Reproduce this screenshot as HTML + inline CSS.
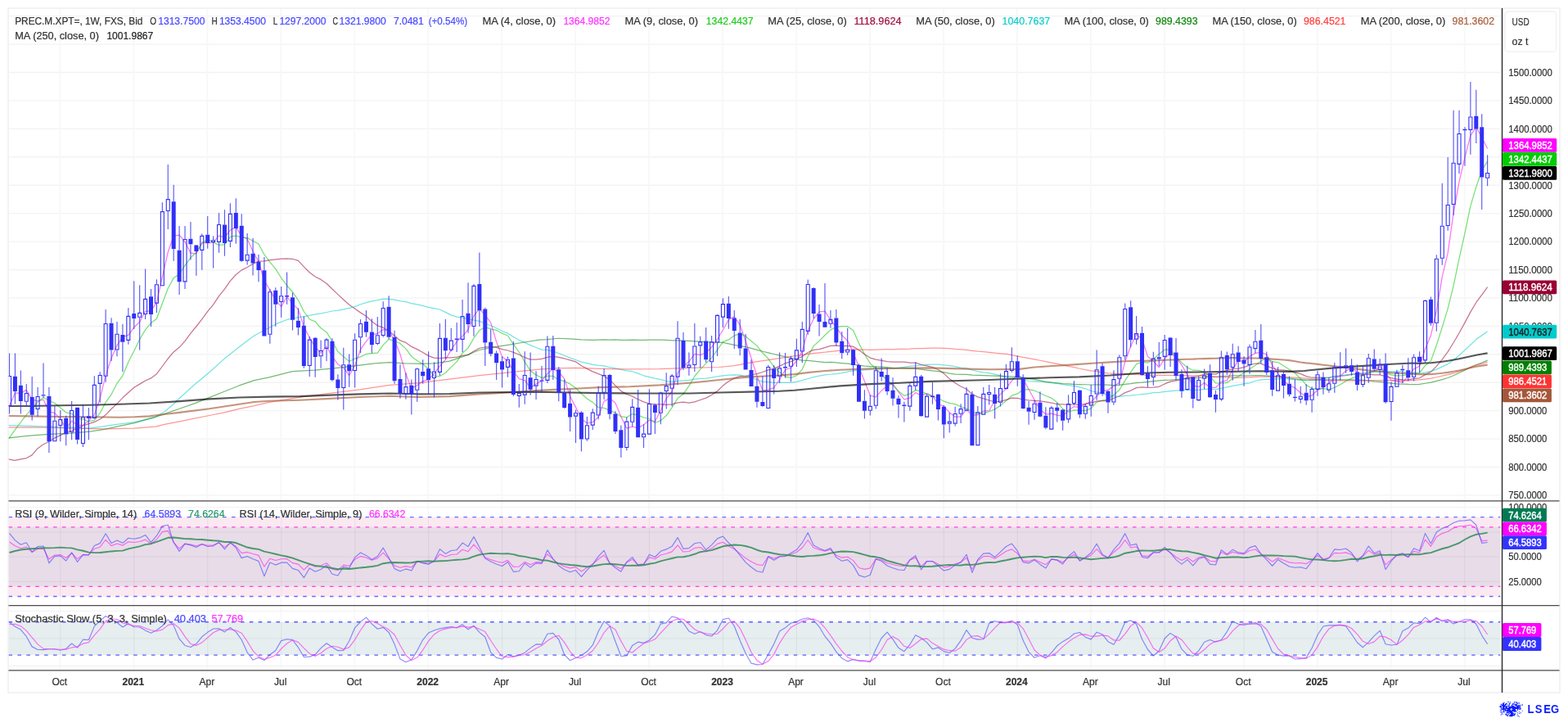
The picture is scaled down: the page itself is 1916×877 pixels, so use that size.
<!DOCTYPE html>
<html lang="en"><head><meta charset="utf-8"><title>PREC.M.XPT= 1W chart</title>
<style>html,body{margin:0;padding:0;background:#fff}body{width:1916px;height:877px;overflow:hidden}svg{display:block}text{font-family:"Liberation Sans","DejaVu Sans",sans-serif;font-size:12px;color:#333;fill:currentColor;stroke:currentColor;stroke-width:.22px}.g{stroke:#f3f3f3;stroke-width:1.35;fill:none}.w{stroke:#3030f8;stroke-width:1.15;fill:none;opacity:.8}.cf{fill:#3030f8;stroke:none}.ch{fill:none;stroke:#3030f8;stroke-width:1.1}.ln{fill:none;stroke-linejoin:round}.tag text{fill:#fff;font-size:12px}</style></head><body>
<svg width="1916" height="877" viewBox="0 0 1916 877">
<rect width="1916" height="877" fill="#fff"/>
<rect x="10" y="10" width="1896" height="836" fill="#fff" stroke="#f3f3f3" stroke-width="2"/>
<g class="g">
<path d="M11 604.93H1833"/>
<path d="M11 570.50H1833"/>
<path d="M11 536.07H1833"/>
<path d="M11 501.64H1833"/>
<path d="M11 467.21H1833"/>
<path d="M11 432.79H1833"/>
<path d="M11 398.36H1833"/>
<path d="M11 363.93H1833"/>
<path d="M11 329.50H1833"/>
<path d="M11 295.07H1833"/>
<path d="M11 260.64H1833"/>
<path d="M11 226.21H1833"/>
<path d="M11 191.79H1833"/>
<path d="M11 157.36H1833"/>
<path d="M11 122.93H1833"/>
<path d="M11 88.50H1833"/>
<path d="M11 54.07H1833"/>
<path d="M11 19.64H1833"/>
<path d="M73.48 11V818" style="stroke:#f7f7f7;stroke-width:1.7"/>
<path d="M163.44 11V818" style="stroke:#f7f7f7;stroke-width:1.7"/>
<path d="M253.40 11V818" style="stroke:#f7f7f7;stroke-width:1.7"/>
<path d="M343.36 11V818" style="stroke:#f7f7f7;stroke-width:1.7"/>
<path d="M433.32 11V818" style="stroke:#f7f7f7;stroke-width:1.7"/>
<path d="M523.28 11V818" style="stroke:#f7f7f7;stroke-width:1.7"/>
<path d="M613.24 11V818" style="stroke:#f7f7f7;stroke-width:1.7"/>
<path d="M703.20 11V818" style="stroke:#f7f7f7;stroke-width:1.7"/>
<path d="M793.16 11V818" style="stroke:#f7f7f7;stroke-width:1.7"/>
<path d="M883.12 11V818" style="stroke:#f7f7f7;stroke-width:1.7"/>
<path d="M973.08 11V818" style="stroke:#f7f7f7;stroke-width:1.7"/>
<path d="M1063.04 11V818" style="stroke:#f7f7f7;stroke-width:1.7"/>
<path d="M1153.00 11V818" style="stroke:#f7f7f7;stroke-width:1.7"/>
<path d="M1242.96 11V818" style="stroke:#f7f7f7;stroke-width:1.7"/>
<path d="M1332.92 11V818" style="stroke:#f7f7f7;stroke-width:1.7"/>
<path d="M1422.88 11V818" style="stroke:#f7f7f7;stroke-width:1.7"/>
<path d="M1519.76 11V818" style="stroke:#f7f7f7;stroke-width:1.7"/>
<path d="M1609.72 11V818" style="stroke:#f7f7f7;stroke-width:1.7"/>
<path d="M1699.68 11V818" style="stroke:#f7f7f7;stroke-width:1.7"/>
<path d="M1789.64 11V818" style="stroke:#f7f7f7;stroke-width:1.7"/>
<path d="M11 619.60H1833"/>
<path d="M11 649.85H1833"/>
<path d="M11 680.10H1833"/>
<path d="M11 710.35H1833"/>
<path d="M11 746.30H1833"/>
<path d="M11 779.90H1833"/>
<path d="M11 813.50H1833"/>
</g>
<clipPath id="cm"><rect x="10.5" y="10" width="1824.5" height="601.5"/></clipPath>
<clipPath id="cr"><rect x="10.5" y="612" width="1824.5" height="127"/></clipPath>
<clipPath id="cs"><rect x="10.5" y="740" width="1824.5" height="78.5"/></clipPath>
<g clip-path="url(#cr)">
<rect x="10.5" y="631.70" width="1822.80" height="96.80" fill="#fbe9f1"/>
<rect x="10.5" y="643.80" width="1822.80" height="72.60" fill="#e8dce8"/>
<g stroke="#000" stroke-opacity=".045" stroke-width="1.3">
<path d="M73.78 631.70V728.50"/>
<path d="M163.74 631.70V728.50"/>
<path d="M253.70 631.70V728.50"/>
<path d="M343.66 631.70V728.50"/>
<path d="M433.62 631.70V728.50"/>
<path d="M523.58 631.70V728.50"/>
<path d="M613.54 631.70V728.50"/>
<path d="M703.50 631.70V728.50"/>
<path d="M793.46 631.70V728.50"/>
<path d="M883.42 631.70V728.50"/>
<path d="M973.38 631.70V728.50"/>
<path d="M1063.34 631.70V728.50"/>
<path d="M1153.30 631.70V728.50"/>
<path d="M1243.26 631.70V728.50"/>
<path d="M1333.22 631.70V728.50"/>
<path d="M1423.18 631.70V728.50"/>
<path d="M1520.06 631.70V728.50"/>
<path d="M1610.02 631.70V728.50"/>
<path d="M1699.98 631.70V728.50"/>
<path d="M1789.94 631.70V728.50"/>
<path d="M10.5 649.85H1833.3"/>
<path d="M10.5 680.10H1833.3"/>
<path d="M10.5 710.35H1833.3"/>
</g>
<path d="M10.5 631.70H1833.3" stroke="#6a6aff" stroke-width="1.3" stroke-dasharray="4.6 6.3" fill="none"/>
<path d="M10.5 643.80H1833.3" stroke="#ff3fe0" stroke-width="1.3" stroke-dasharray="4.6 6.3" fill="none"/>
<path d="M10.5 716.40H1833.3" stroke="#ff3fe0" stroke-width="1.3" stroke-dasharray="4.6 6.3" fill="none"/>
<path d="M10.5 728.50H1833.3" stroke="#6a6aff" stroke-width="1.3" stroke-dasharray="4.6 6.3" fill="none"/>
</g>
<g clip-path="url(#cs)">
<rect x="10.5" y="759.74" width="1822.80" height="40.32" fill="#e6eeef"/>
<g stroke="#000" stroke-opacity=".045" stroke-width="1.3">
<path d="M73.78 759.74V800.06"/>
<path d="M163.74 759.74V800.06"/>
<path d="M253.70 759.74V800.06"/>
<path d="M343.66 759.74V800.06"/>
<path d="M433.62 759.74V800.06"/>
<path d="M523.58 759.74V800.06"/>
<path d="M613.54 759.74V800.06"/>
<path d="M703.50 759.74V800.06"/>
<path d="M793.46 759.74V800.06"/>
<path d="M883.42 759.74V800.06"/>
<path d="M973.38 759.74V800.06"/>
<path d="M1063.34 759.74V800.06"/>
<path d="M1153.30 759.74V800.06"/>
<path d="M1243.26 759.74V800.06"/>
<path d="M1333.22 759.74V800.06"/>
<path d="M1423.18 759.74V800.06"/>
<path d="M1520.06 759.74V800.06"/>
<path d="M1610.02 759.74V800.06"/>
<path d="M1699.98 759.74V800.06"/>
<path d="M1789.94 759.74V800.06"/>
<path d="M10.5 779.90H1833.3"/>
</g>
<path d="M10.5 759.74H1833.3" stroke="#5a5aff" stroke-width="1.3" stroke-dasharray="4.6 6.3" fill="none"/>
<path d="M10.5 800.06H1833.3" stroke="#5a5aff" stroke-width="1.3" stroke-dasharray="4.6 6.3" fill="none"/>
</g>
<g clip-path="url(#cm)">
<path class="ln" d="M11.51 495.62L18.45 480.09L25.39 480.09L32.26 476.37L39.18 488.10L46.10 489.79L53.02 488.06L59.94 502.67L66.86 504.63L73.78 511.62L80.70 523.49L87.62 514.13L94.54 519.75L101.46 519.06L108.38 514.18L115.30 506.41L122.22 486.87L129.14 458.33L136.06 437.46L142.98 421.94L149.90 411.66L156.82 409.38L163.74 399.79L170.66 393.31L177.58 380.29L184.50 379.61L191.42 369.34L198.34 338.40L205.26 307.97L212.18 287.99L219.10 287.08L226.02 295.52L232.94 309.08L239.86 309.82L246.78 295.91L253.70 296.96L260.62 295.91L267.54 287.87L274.46 289.93L281.38 281.12L288.30 277.37L295.22 288.33L302.14 291.98L309.06 306.96L315.98 319.72L322.90 342.72L329.82 354.11L336.74 366.64L343.66 374.63L350.58 362.42L357.50 370.84L364.42 377.90L371.34 399.15L378.26 412.58L385.18 423.90L392.10 431.12L399.02 423.22L405.94 435.43L412.86 444.91L419.78 449.22L426.70 458.70L433.62 446.51L440.54 426.94L447.46 416.87L454.38 408.86L461.30 407.46L468.22 402.72L475.14 404.22L482.06 415.20L488.98 432.76L495.90 456.80L502.82 474.36L509.74 470.80L516.66 465.55L523.58 463.40L530.50 456.46L537.42 447.12L544.34 439.38L551.26 427.40L558.18 417.37L565.10 410.66L572.02 402.58L578.94 385.91L585.86 377.19L592.78 385.14L599.70 394.22L606.62 417.60L613.54 435.64L620.46 440.89L627.38 453.33L634.30 462.72L641.22 464.56L648.14 473.63L655.06 469.06L661.98 465.18L668.90 456.37L675.82 450.43L682.74 454.44L689.66 462.65L696.58 484.14L703.50 497.37L710.42 511.53L717.34 517.01L724.26 515.73L731.18 509.56L738.10 490.16L745.02 486.60L751.94 492.21L758.86 508.88L765.78 523.03L772.70 521.03L779.62 522.85L786.54 518.70L793.46 513.31L800.38 514.86L807.30 501.39L814.22 486.78L821.14 478.24L828.06 455.66L834.98 447.87L841.90 441.51L848.82 432.40L855.74 433.54L862.66 431.03L869.58 423.95L876.50 414.54L883.42 402.99L890.34 390.43L897.26 386.87L904.18 396.82L911.10 416.69L918.02 437.44L924.94 459.15L931.86 476.76L938.78 476.12L945.70 473.65L952.62 463.49L959.54 451.73L966.46 449.22L973.38 440.75L980.30 428.88L987.22 403.63L994.14 389.70L1001.06 380.89L1007.98 380.18L1014.90 390.89L1021.82 399.77L1028.74 409.34L1035.66 416.28L1042.58 430.11L1049.50 448.16L1056.42 465.80L1063.34 483.07L1070.26 484.82L1077.18 477.14L1084.10 471.21L1091.02 468.74L1097.94 478.97L1104.86 487.78L1111.78 486.19L1118.70 479.66L1125.62 483.22L1132.54 480.48L1139.46 483.67L1146.38 493.49L1153.30 496.09L1160.22 503.86L1167.14 509.20L1174.06 509.20L1180.98 499.98L1187.90 507.14L1194.82 506.73L1201.74 502.17L1208.66 501.71L1215.58 488.93L1222.50 481.57L1229.42 474.63L1236.34 465.18L1243.26 457.24L1250.18 463.31L1257.10 475.50L1264.02 488.38L1270.94 500.25L1277.86 506.09L1284.78 505.09L1291.70 507.14L1298.62 508.38L1305.54 501.25L1312.46 496.55L1319.38 497.69L1326.30 493.45L1333.22 490.93L1340.14 483.99L1347.06 477.65L1353.98 476.37L1360.90 471.39L1367.82 467.65L1374.74 441.85L1381.66 422.76L1388.58 408.74L1395.50 413.99L1402.42 435.32L1409.34 441.12L1416.26 448.74L1423.18 438.15L1430.10 430.89L1437.02 436.05L1443.94 445.91L1450.86 457.74L1457.78 470.98L1464.70 472.44L1471.62 467.74L1478.54 473.26L1485.46 473.49L1492.38 466.55L1499.30 464.59L1506.22 451.57L1513.14 440.11L1520.06 441.94L1526.98 435.23L1533.90 431.35L1540.82 430.34L1547.74 432.99L1554.66 445.91L1561.58 456.28L1568.50 464.50L1575.42 471.21L1582.34 473.58L1589.26 479.98L1596.18 484.54L1603.10 483.03L1610.02 476.19L1616.94 473.31L1623.86 468.29L1630.78 461.57L1637.70 459.52L1644.62 453.03L1651.54 449.29L1658.46 454.54L1665.38 456.82L1672.30 454.53L1679.22 453.70L1686.14 447.52L1693.06 455.59L1699.98 464.27L1706.90 465.55L1713.82 467.14L1720.74 459.61L1727.66 450.71L1734.58 447.28L1741.50 426.30L1748.42 409.68L1755.34 379.56L1762.26 338.17L1769.18 308.95L1776.10 260.18L1783.02 221.98L1789.94 192.46L1796.86 165.59L1803.78 155.04L1810.70 168.19L1817.62 181.53" stroke="#ff33ee" stroke-width="1.25" opacity="0.68"/>
<path class="ln" d="M10.59 535.81L18.45 524.85L25.39 515.71L32.33 506.58L39.09 499.27L46.03 491.05L52.97 485.57L59.92 489.23L66.86 492.22L73.78 498.10L80.70 503.93L87.62 505.25L94.54 511.50L101.46 511.86L108.38 514.76L115.30 513.41L122.22 504.48L129.14 491.28L136.06 481.81L142.98 468.27L149.90 458.94L156.82 442.23L163.74 428.80L170.66 414.55L177.58 402.88L184.50 394.56L191.42 389.24L198.34 370.52L205.26 352.23L212.18 339.59L219.10 334.89L226.02 324.18L232.94 314.80L239.86 308.27L246.78 297.69L253.70 292.01L260.62 295.91L267.54 299.34L274.46 298.55L281.38 289.37L288.30 287.84L295.22 290.12L302.14 290.62L309.06 294.28L315.98 297.96L322.90 310.92L329.82 320.06L336.74 328.37L343.66 339.52L350.58 348.72L357.50 356.73L364.42 366.56L371.34 380.50L378.26 389.99L385.18 392.82L392.10 400.78L399.02 405.64L405.94 417.01L412.86 429.48L419.78 435.62L426.70 441.55L433.62 438.05L440.54 435.86L447.46 432.49L454.38 431.66L461.30 431.05L468.22 421.32L475.14 414.41L482.06 416.54L488.98 419.52L495.90 425.90L502.82 435.49L509.74 440.51L516.66 444.72L523.58 450.76L530.50 459.37L537.42 459.57L544.34 455.46L551.26 448.37L558.18 441.85L565.10 431.26L572.02 425.15L578.94 412.98L585.86 403.53L592.78 399.56L599.70 401.63L606.62 403.30L613.54 407.20L620.46 410.02L627.38 420.60L634.30 430.03L641.22 442.15L648.14 452.88L655.06 457.90L661.98 461.56L668.90 459.38L675.82 459.45L682.74 463.92L689.66 465.70L696.58 468.90L703.50 474.03L710.42 480.77L717.34 487.01L724.26 491.37L731.18 497.68L738.10 498.42L745.02 501.30L751.94 504.51L758.86 508.67L765.78 509.83L772.70 505.53L779.62 507.11L786.54 509.99L793.46 511.49L800.38 516.51L807.30 513.68L814.22 507.58L821.14 497.87L828.06 486.56L834.98 481.17L841.90 471.42L848.82 459.52L855.74 451.11L862.66 443.91L869.58 437.00L876.50 427.41L883.42 417.66L890.34 414.92L897.26 409.89L904.18 407.56L911.10 410.68L918.02 416.66L924.94 422.39L931.86 431.03L938.78 438.05L945.70 448.06L952.62 454.86L959.54 459.85L966.46 461.34L973.38 458.76L980.30 451.06L987.22 435.18L994.14 422.64L1001.06 416.43L1007.98 409.51L1014.90 402.91L1021.82 399.55L1028.74 398.71L1035.66 398.64L1042.58 403.46L1049.50 419.34L1056.42 432.53L1063.34 444.05L1070.26 449.96L1077.18 457.68L1084.10 464.28L1091.02 470.45L1097.94 477.82L1104.86 483.31L1111.78 481.18L1118.70 476.61L1125.62 477.89L1132.54 481.38L1139.46 484.08L1146.38 486.52L1153.30 490.05L1160.22 492.44L1167.14 493.60L1174.06 496.74L1180.98 499.08L1187.90 503.08L1194.82 505.27L1201.74 504.96L1208.66 502.73L1215.58 499.89L1222.50 495.36L1229.42 489.60L1236.34 483.17L1243.26 480.89L1250.18 475.88L1257.10 475.72L1264.02 477.04L1270.94 480.24L1277.86 483.51L1284.78 486.17L1291.70 491.49L1298.62 499.44L1305.54 503.08L1312.46 500.94L1319.38 501.35L1326.30 501.70L1333.22 498.94L1340.14 491.12L1347.06 489.15L1353.98 488.02L1360.90 482.50L1367.82 476.19L1374.74 464.84L1381.66 454.71L1388.58 444.85L1395.50 441.99L1402.42 443.21L1409.34 438.48L1416.26 432.57L1423.18 427.22L1430.10 426.87L1437.02 435.90L1443.94 442.86L1450.86 448.99L1457.78 452.20L1464.70 452.40L1471.62 454.69L1478.54 459.89L1485.46 467.91L1492.38 468.25L1499.30 467.38L1506.22 462.41L1513.14 460.07L1520.06 455.34L1526.98 450.84L1533.90 446.23L1540.82 441.00L1547.74 437.34L1554.66 441.66L1561.58 442.54L1568.50 446.74L1575.42 451.16L1582.34 455.73L1589.26 462.43L1596.18 470.38L1603.10 474.58L1610.02 474.93L1616.94 474.60L1623.86 475.72L1630.78 473.28L1637.70 469.73L1644.62 465.47L1651.54 462.08L1658.46 459.95L1665.38 458.08L1672.30 455.85L1679.22 453.36L1686.14 450.72L1693.06 455.42L1699.98 457.96L1706.90 458.93L1713.82 458.66L1720.74 457.68L1727.66 455.24L1734.58 455.70L1741.50 446.48L1748.42 440.86L1755.34 421.45L1762.26 399.66L1769.18 376.88L1776.10 348.87L1783.02 315.84L1789.94 284.89L1796.86 251.69L1803.78 228.32L1810.70 208.51L1817.62 196.87" stroke="#22cc22" stroke-width="1.25" opacity="0.62"/>
<path class="ln" d="M10.59 560.83L17.72 562.30L25.39 560.83L32.33 559.56L39.09 555.90L46.03 547.68L52.97 542.75L59.92 539.46L66.86 534.90L73.80 531.61L80.74 528.50L87.68 526.13L94.62 523.02L101.57 519.92L108.51 517.54L115.45 515.35L122.39 512.06L129.33 506.58L136.27 499.27L143.21 492.88L150.16 485.57L157.10 479.18L163.86 473.34L170.80 469.13L177.58 464.97L184.50 461.94L191.42 456.74L198.34 447.50L205.26 438.03L212.18 429.92L219.10 424.30L226.02 416.69L232.94 407.05L239.86 398.75L246.78 389.79L253.70 380.45L260.62 372.14L267.54 361.65L274.46 353.13L281.38 343.16L288.30 335.49L295.22 329.88L302.14 326.51L309.06 322.28L315.98 319.14L322.90 318.85L329.82 317.67L336.74 316.97L343.66 316.15L350.58 315.99L357.50 316.27L364.42 318.34L371.34 325.87L378.26 332.73L385.18 338.01L392.10 341.39L399.02 346.30L405.94 352.95L412.86 359.63L419.78 365.92L426.70 372.18L433.62 377.04L440.54 381.88L447.46 386.23L454.38 392.62L461.30 397.85L468.22 400.18L475.14 404.19L482.06 409.94L488.98 415.94L495.90 418.43L502.82 423.43L509.74 426.60L516.66 430.49L523.58 434.59L530.50 437.13L537.42 437.68L544.34 436.92L551.26 436.96L558.18 436.08L565.10 434.40L572.02 433.62L578.94 429.04L585.86 425.25L592.78 424.15L599.70 423.31L606.62 424.41L613.54 426.64L620.46 427.99L627.38 430.42L634.30 433.25L641.22 436.54L648.14 439.10L655.06 439.04L661.98 438.44L668.90 436.47L675.82 435.27L682.74 436.42L689.66 437.98L696.58 439.79L703.50 441.81L710.42 446.73L717.34 450.40L724.26 453.92L731.18 456.57L738.10 459.45L745.02 463.84L751.94 470.93L758.86 477.64L765.78 481.51L772.70 484.13L779.62 487.77L786.54 490.93L793.46 493.10L800.38 493.97L807.30 493.96L814.22 494.48L821.14 493.83L828.06 491.83L834.98 491.19L841.90 492.10L848.82 490.95L855.74 488.48L862.66 486.13L869.58 482.47L876.50 477.70L883.42 471.12L890.34 465.87L897.26 461.85L904.18 459.66L911.10 459.36L918.02 458.01L924.94 456.56L931.86 454.52L938.78 451.85L945.70 450.43L952.62 447.07L959.54 443.80L966.46 441.60L973.38 438.57L980.30 435.46L987.22 430.50L994.14 427.43L1001.06 426.61L1007.98 424.63L1014.90 422.40L1021.82 422.21L1028.74 422.74L1035.66 422.27L1042.58 423.39L1049.50 427.59L1056.42 432.79L1063.34 437.09L1070.26 439.06L1077.18 440.44L1084.10 441.51L1091.02 442.10L1097.94 442.23L1104.86 442.21L1111.78 443.12L1118.70 443.06L1125.62 445.39L1132.54 446.81L1139.46 448.63L1146.38 451.50L1153.30 456.14L1160.22 462.84L1167.14 467.75L1174.06 472.03L1180.98 475.31L1187.90 481.45L1194.82 484.87L1201.74 486.88L1208.66 488.98L1215.58 490.86L1222.50 490.21L1229.42 488.30L1236.34 486.11L1243.26 486.44L1250.18 488.00L1257.10 488.99L1264.02 489.26L1270.94 489.85L1277.86 490.93L1284.78 492.01L1291.70 493.65L1298.62 493.87L1305.54 494.25L1312.46 494.07L1319.38 494.33L1326.30 493.45L1333.22 492.19L1340.14 490.04L1347.06 489.28L1353.98 489.67L1360.90 486.46L1367.82 483.78L1374.74 479.63L1381.66 477.04L1388.58 473.64L1395.50 472.97L1402.42 473.34L1409.34 473.19L1416.26 472.28L1423.18 468.95L1430.10 466.20L1437.02 464.82L1443.94 463.58L1450.86 461.21L1457.78 460.74L1464.70 459.26L1471.62 457.08L1478.54 456.73L1485.46 457.05L1492.38 454.28L1499.30 452.46L1506.22 450.43L1513.14 450.03L1520.06 448.57L1526.98 445.88L1533.90 444.02L1540.82 444.06L1547.74 447.15L1554.66 449.58L1561.58 451.63L1568.50 452.14L1575.42 452.89L1582.34 454.78L1589.26 456.63L1596.18 459.56L1603.10 461.24L1610.02 461.20L1616.94 461.01L1623.86 461.25L1630.78 459.73L1637.70 459.13L1644.62 458.66L1651.54 457.42L1658.46 456.70L1665.38 457.58L1672.30 457.05L1679.22 457.76L1686.14 457.89L1693.06 459.76L1699.98 461.70L1706.90 463.23L1713.82 463.77L1720.74 464.02L1727.66 462.46L1734.58 461.79L1741.50 457.66L1748.42 454.18L1755.34 447.42L1762.26 439.10L1769.18 429.57L1776.10 418.52L1783.02 406.75L1789.94 394.17L1796.86 381.14L1803.78 369.47L1810.70 360.14L1817.62 350.72" stroke="#990033" stroke-width="1.25" opacity="0.55"/>
<path class="ln" d="M10.59 519.73L36.53 520.28L59.92 521.20L87.68 522.11L109.60 523.02L124.22 521.20L138.83 518.82L164.40 515.71L189.98 509.32L200.94 502.93L211.90 493.79L219.21 486.49L237.47 470.05L255.74 454.80L274.01 438.36L292.27 423.75L310.54 410.05L321.50 404.22L337.94 395.45L350.58 390.48L357.50 389.10L364.42 387.54L371.34 386.68L378.26 385.38L385.18 383.97L392.10 382.85L399.02 381.50L405.94 380.00L412.86 379.19L419.78 377.85L426.70 376.31L433.62 374.59L440.54 371.76L447.46 369.68L454.38 367.89L461.30 366.67L468.22 365.03L475.14 365.35L482.06 366.11L488.98 367.54L495.90 368.64L502.82 370.55L509.74 371.79L516.66 373.32L523.58 375.29L530.50 376.70L537.42 378.01L544.34 381.40L551.26 384.84L558.18 387.05L565.10 387.90L572.02 389.96L578.94 390.99L585.86 392.44L592.78 395.03L599.70 397.74L606.62 400.73L613.54 404.26L620.46 407.11L627.38 411.52L634.30 415.55L641.22 418.36L648.14 421.64L655.06 424.49L661.98 427.19L668.90 427.45L675.82 429.35L682.74 431.51L689.66 434.23L696.58 437.19L703.50 439.47L710.42 442.20L717.34 443.66L724.26 445.44L731.18 446.32L738.10 446.92L745.02 448.73L751.94 449.98L758.86 451.44L765.78 452.83L772.70 453.72L779.62 456.09L786.54 458.78L793.46 460.54L800.38 462.20L807.30 463.60L814.22 465.51L821.14 466.47L828.06 465.43L834.98 464.81L841.90 464.28L848.82 463.11L855.74 462.45L862.66 462.05L869.58 461.13L876.50 459.76L883.42 458.92L890.34 458.14L897.26 457.89L904.18 458.11L911.10 459.40L918.02 460.92L924.94 463.75L931.86 466.08L938.78 466.68L945.70 467.28L952.62 467.42L959.54 467.36L966.46 467.35L973.38 466.27L980.30 464.71L987.22 462.49L994.14 460.63L1001.06 459.22L1007.98 457.91L1014.90 457.25L1021.82 456.58L1028.74 455.61L1035.66 454.20L1042.58 452.93L1049.50 452.64L1056.42 451.95L1063.34 451.48L1070.26 450.46L1077.18 450.05L1084.10 450.44L1091.02 450.06L1097.94 449.40L1104.86 448.36L1111.78 447.49L1118.70 446.75L1125.62 446.23L1132.54 445.31L1139.46 445.12L1146.38 445.04L1153.30 445.80L1160.22 446.67L1167.14 447.59L1174.06 449.32L1180.98 449.97L1187.90 451.92L1194.82 453.54L1201.74 454.81L1208.66 455.62L1215.58 457.12L1222.50 458.90L1229.42 460.54L1236.34 461.60L1243.26 462.75L1250.18 464.22L1257.10 465.25L1264.02 465.68L1270.94 466.04L1277.86 466.57L1284.78 467.57L1291.70 468.36L1298.62 469.63L1305.54 470.53L1312.46 471.35L1319.38 472.91L1326.30 474.79L1333.22 477.52L1340.14 478.89L1347.06 480.65L1353.98 482.49L1360.90 483.96L1367.82 484.33L1374.74 483.26L1381.66 483.01L1388.58 482.25L1395.50 481.59L1402.42 480.82L1409.34 479.65L1416.26 479.36L1423.18 478.47L1430.10 477.59L1437.02 477.04L1443.94 476.72L1450.86 476.07L1457.78 476.38L1464.70 476.46L1471.62 475.48L1478.54 475.49L1485.46 475.56L1492.38 474.30L1499.30 472.96L1506.22 471.31L1513.14 470.03L1520.06 468.92L1526.98 467.78L1533.90 465.24L1540.82 463.92L1547.74 463.39L1554.66 463.31L1561.58 462.63L1568.50 462.56L1575.42 463.12L1582.34 463.98L1589.26 464.45L1596.18 464.25L1603.10 463.72L1610.02 463.01L1616.94 462.30L1623.86 461.23L1630.78 460.24L1637.70 459.20L1644.62 457.87L1651.54 457.07L1658.46 456.88L1665.38 455.93L1672.30 454.76L1679.22 454.09L1686.14 453.96L1693.06 454.17L1699.98 453.79L1706.90 453.63L1713.82 453.92L1720.74 455.59L1727.66 456.02L1734.58 456.71L1741.50 454.90L1748.42 453.54L1755.34 451.10L1762.26 447.86L1769.18 444.57L1776.10 439.88L1783.02 433.97L1789.94 427.59L1796.86 421.19L1803.78 414.60L1810.70 409.63L1817.62 404.69" stroke="#00cccc" stroke-width="1.25" opacity="0.55"/>
<path class="ln" d="M10.59 534.90L36.53 532.16L59.92 530.33L87.68 529.05L109.60 527.22L127.87 524.30L146.14 520.28L164.40 516.63L189.98 509.32L200.94 505.67L219.21 499.27L237.47 492.88L255.74 485.57L274.01 478.27L292.27 470.96L310.54 464.57L328.81 460.91L357.40 453.62L384.80 452.16L412.20 449.42L439.60 446.13L457.87 443.94L476.14 442.66L494.40 443.94L512.67 444.30L530.94 443.94L549.21 441.20L567.47 434.80L585.74 427.49L604.01 423.84L622.27 421.10L640.54 418.00L658.81 415.07L669.13 414.71L681.92 413.25L696.58 413.83L703.50 414.29L710.42 414.87L717.34 415.17L724.26 415.41L731.18 415.15L738.10 414.89L745.02 415.11L751.94 414.99L758.86 415.32L765.78 415.34L772.70 415.01L779.62 415.34L786.54 415.27L793.46 415.11L800.38 415.04L807.30 415.14L814.22 415.27L821.14 415.91L828.06 415.77L834.98 416.18L841.90 416.46L848.82 416.83L855.74 417.12L862.66 417.68L869.58 418.21L876.50 418.23L883.42 418.47L890.34 419.77L897.26 421.37L904.18 422.58L911.10 423.65L918.02 425.44L924.94 427.37L931.86 429.26L938.78 430.86L945.70 432.51L952.62 434.07L959.54 435.81L966.46 437.23L973.38 438.90L980.30 440.13L987.22 440.42L994.14 441.14L1001.06 441.85L1007.98 442.55L1014.90 442.35L1021.82 442.97L1028.74 443.56L1035.66 444.22L1042.58 445.06L1049.50 446.06L1056.42 447.08L1063.34 447.57L1070.26 447.95L1077.18 448.19L1084.10 448.68L1091.02 449.39L1097.94 449.69L1104.86 449.90L1111.78 450.16L1118.70 450.23L1125.62 451.16L1132.54 452.04L1139.46 452.83L1146.38 453.62L1153.30 454.70L1160.22 456.09L1167.14 457.03L1174.06 457.38L1180.98 457.39L1187.90 458.10L1194.82 458.32L1201.74 458.63L1208.66 458.84L1215.58 459.12L1222.50 459.33L1229.42 459.73L1236.34 459.87L1243.26 460.32L1250.18 461.17L1257.10 462.33L1264.02 463.30L1270.94 464.89L1277.86 466.32L1284.78 467.12L1291.70 467.82L1298.62 468.52L1305.54 468.95L1312.46 469.35L1319.38 469.59L1326.30 469.75L1333.22 470.00L1340.14 469.76L1347.06 469.94L1353.98 470.20L1360.90 470.60L1367.82 470.45L1374.74 469.43L1381.66 468.60L1388.58 467.59L1395.50 467.12L1402.42 466.38L1409.34 465.57L1416.26 464.91L1423.18 464.26L1430.10 464.01L1437.02 463.55L1443.94 463.06L1450.86 462.22L1457.78 461.93L1464.70 461.60L1471.62 460.85L1478.54 460.40L1485.46 460.34L1492.38 459.67L1499.30 459.38L1506.22 458.99L1513.14 458.81L1520.06 459.12L1526.98 458.87L1533.90 458.58L1540.82 458.73L1547.74 459.10L1554.66 459.47L1561.58 459.88L1568.50 460.73L1575.42 461.83L1582.34 462.79L1589.26 463.60L1596.18 464.24L1603.10 464.48L1610.02 464.34L1616.94 464.17L1623.86 463.90L1630.78 463.90L1637.70 463.78L1644.62 463.75L1651.54 463.80L1658.46 464.11L1665.38 464.42L1672.30 464.78L1679.22 465.80L1686.14 466.43L1693.06 467.41L1699.98 468.14L1706.90 468.79L1713.82 469.12L1720.74 469.42L1727.66 469.52L1734.58 469.48L1741.50 468.25L1748.42 467.18L1755.34 465.38L1762.26 463.61L1769.18 461.52L1776.10 458.74L1783.02 455.51L1789.94 452.15L1796.86 448.63L1803.78 445.49L1810.70 443.05L1817.62 440.08" stroke="#008000" stroke-width="1.25" opacity="0.55"/>
<path class="ln" d="M10.59 522.11L54.80 522.11L91.34 523.02L127.87 523.94L164.40 523.02L189.98 521.20L200.94 518.45L219.21 514.80L255.74 507.49L274.01 503.84L292.27 499.27L310.54 495.62L328.81 491.42L366.53 485.04L403.07 480.47L439.60 475.90L476.14 470.42L512.67 467.68L549.21 463.12L585.74 458.55L622.27 454.90L658.81 451.24L678.27 449.96L703.84 449.42L733.07 450.33L769.60 450.88L806.14 450.69L842.67 449.42L879.21 448.50L897.47 446.68L915.74 443.02L934.01 440.28L952.27 437.54L970.54 434.80L988.81 432.06L1008.27 430.23L1026.53 428.04L1042.58 426.87L1049.50 427.07L1056.42 427.23L1063.34 427.28L1070.26 427.09L1077.18 426.78L1084.10 426.74L1091.02 426.76L1097.94 426.46L1104.86 426.33L1111.78 426.06L1118.70 425.59L1125.62 425.63L1132.54 425.28L1139.46 425.11L1146.38 425.04L1153.30 425.36L1160.22 425.74L1167.14 426.47L1174.06 426.95L1180.98 427.44L1187.90 428.28L1194.82 429.07L1201.74 429.68L1208.66 430.33L1215.58 431.18L1222.50 431.79L1229.42 432.49L1236.34 433.71L1243.26 435.16L1250.18 436.46L1257.10 437.52L1264.02 438.85L1270.94 440.26L1277.86 441.69L1284.78 443.09L1291.70 444.46L1298.62 445.92L1305.54 447.38L1312.46 448.60L1319.38 450.24L1326.30 451.69L1333.22 452.79L1340.14 453.72L1347.06 454.79L1353.98 455.86L1360.90 456.22L1367.82 456.75L1374.74 456.79L1381.66 457.15L1388.58 457.45L1395.50 457.90L1402.42 458.32L1409.34 458.27L1416.26 458.42L1423.18 458.28L1430.10 458.32L1437.02 458.61L1443.94 458.70L1450.86 458.62L1457.78 458.90L1464.70 458.97L1471.62 459.26L1478.54 459.86L1485.46 460.41L1492.38 460.51L1499.30 460.79L1506.22 461.16L1513.14 461.36L1520.06 461.23L1526.98 460.85L1533.90 460.48L1540.82 460.19L1547.74 460.22L1554.66 460.33L1561.58 460.29L1568.50 460.40L1575.42 460.86L1582.34 461.24L1589.26 461.70L1596.18 462.20L1603.10 462.79L1610.02 463.20L1616.94 464.03L1623.86 464.63L1630.78 464.83L1637.70 464.95L1644.62 464.97L1651.54 464.99L1658.46 465.19L1665.38 465.04L1672.30 464.75L1679.22 464.70L1686.14 464.50L1693.06 464.68L1699.98 464.73L1706.90 464.94L1713.82 464.94L1720.74 464.82L1727.66 464.41L1734.58 463.96L1741.50 463.05L1748.42 462.10L1755.34 460.75L1762.26 459.23L1769.18 457.70L1776.10 455.97L1783.02 453.69L1789.94 451.23L1796.86 448.54L1803.78 446.16L1810.70 444.28L1817.62 442.13" stroke="#ff3333" stroke-width="1.25" opacity="0.52"/>
<path class="ln" d="M10.59 508.04L36.53 508.41L73.07 508.96L109.60 509.32L146.14 509.69L164.40 509.32L182.67 508.41L200.94 506.03L219.21 503.84L255.74 499.27L274.01 496.53L292.27 493.79L310.54 491.05L328.81 489.78L366.53 488.69L403.07 486.86L439.60 485.04L476.14 483.76L512.67 485.04L549.21 484.12L585.74 481.38L622.27 479.56L658.81 476.82L678.27 475.90L696.53 474.99L733.07 473.16L769.60 472.25L806.14 470.42L824.40 468.96L842.67 467.68L879.21 464.03L915.74 460.38L934.01 459.46L952.27 458.55L970.54 457.09L988.81 454.90L1008.27 453.07L1026.53 451.79L1063.07 450.33L1099.60 449.78L1136.14 449.42L1172.67 450.33L1209.21 451.24L1245.74 450.88L1264.01 448.50L1282.27 447.22L1300.54 446.13L1318.81 444.85L1338.27 443.48L1356.53 442.38L1374.80 441.28L1388.58 440.71L1395.50 440.70L1402.42 440.63L1409.34 440.37L1416.26 440.16L1423.18 439.70L1430.10 439.45L1437.02 439.33L1443.94 439.02L1450.86 438.77L1457.78 438.64L1464.70 438.31L1471.62 438.10L1478.54 437.84L1485.46 437.73L1492.38 437.36L1499.30 437.26L1506.22 437.13L1513.14 437.36L1520.06 437.45L1526.98 437.52L1533.90 437.52L1540.82 437.78L1547.74 438.11L1554.66 438.58L1561.58 439.04L1568.50 439.48L1575.42 440.15L1582.34 441.28L1589.26 442.48L1596.18 443.41L1603.10 444.07L1610.02 444.89L1616.94 445.77L1623.86 446.58L1630.78 447.38L1637.70 448.14L1644.62 448.91L1651.54 449.81L1658.46 450.67L1665.38 451.66L1672.30 452.45L1679.22 453.11L1686.14 453.78L1693.06 454.63L1699.98 455.34L1706.90 455.57L1713.82 456.04L1720.74 456.49L1727.66 456.87L1734.58 457.27L1741.50 457.15L1748.42 457.13L1755.34 456.47L1762.26 455.78L1769.18 454.85L1776.10 453.71L1783.02 452.45L1789.94 450.92L1796.86 449.27L1803.78 447.82L1810.70 446.64L1817.62 445.62" stroke="#a0522d" stroke-width="2.1" opacity="0.62"/>
<path class="ln" d="M10.59 495.99L36.53 495.99L73.07 495.26L109.60 494.71L146.14 493.79L182.67 492.52L219.21 490.14L255.74 487.40L292.27 485.57L328.81 484.66L366.53 484.12L403.07 482.66L439.60 481.38L476.14 480.47L512.67 481.38L549.21 481.02L585.74 479.56L622.27 479.01L658.81 478.64L696.53 479.56L733.07 480.10L769.60 480.47L806.14 480.47L842.67 480.47L879.21 479.56L915.74 478.64L952.27 477.73L970.54 476.82L988.81 474.99L1026.53 471.34L1063.07 469.14L1099.60 467.68L1136.14 465.86L1172.67 464.94L1209.21 464.03L1245.74 462.57L1282.27 461.29L1318.81 460.38L1356.53 458.45L1393.07 455.71L1429.60 454.80L1466.14 454.44L1502.67 453.89L1539.21 453.34L1557.47 453.52L1575.74 453.89L1594.01 452.97L1600.00 452.24L1625.05 449.86L1650.11 447.85L1675.16 446.35L1700.21 444.72L1725.27 443.47L1734.58 443.91L1741.50 443.54L1748.42 443.21L1755.34 442.52L1762.26 441.70L1769.18 440.68L1776.10 439.54L1783.02 438.26L1789.94 436.74L1796.86 435.25L1803.78 433.83L1810.70 432.57L1817.62 431.41" stroke="#000000" stroke-width="2.1" opacity="0.66"/>
<path class="w" d="M11.50 431.42V458.96M11.50 496.29V505.57M18.42 431.42V459.87M18.42 478.03V493.52M25.34 452.42V470.83M25.34 489.90V505.57M32.26 469.04V479.97M32.26 490.81V495.89M39.18 459.91V484.90M39.18 506.70V513.61M46.10 473.06V483.98M46.10 499.94V508.68M53.02 443.47V482.13M53.02 483.53V485.84M59.94 473.06V483.98M59.94 539.21V553.06M66.86 495.89V513.76M73.78 501.00V511.93M73.78 520.03V539.18M80.70 507.76V510.65M80.70 530.45V544.29M87.62 490.05V500.97M87.62 528.25V537.35M94.54 537.02V542.47M101.46 494.06V509.19M101.46 541.95V546.12M108.38 498.08V508.28M108.38 510.90V537.35M115.30 459.36V469.92M115.30 510.90V511.42M122.22 454.25V458.05M122.22 468.89V491.87M129.14 378.08V395.03M129.14 459.76V466.67M136.06 388.13V394.67M136.06 427.43V441.10M142.98 392.88V407.82M142.98 427.43V435.25M149.90 395.98V408.92M149.90 417.75V453.88M156.82 375.89V385.90M156.82 415.93V420.64M163.74 343.20V382.98M163.74 389.08V402.01M170.66 348.13V381.88M170.66 387.80V427.58M177.58 328.40V364.90M177.58 383.96V389.95M184.50 353.06V362.16M184.50 383.96V399.09M191.42 341.19V347.18M191.42 370.63V381.92M198.34 247.21V258.14M205.26 201.00V243.16M205.26 258.03V279.91M212.18 225.66V246.27M212.18 304.05V318.81M219.10 275.89V305.63M219.10 344.33V360.00M226.02 275.89V291.93M226.02 344.33V353.06M232.94 270.96V291.75M232.94 298.21V317.53M239.86 299.09V299.60M239.86 306.98V336.71M246.78 285.57V287.91M246.78 305.88V329.77M253.70 264.02V286.81M253.70 296.93V303.84M260.62 288.13V293.21M260.62 296.02V327.58M267.54 260.00V274.03M267.54 295.83V308.77M274.46 256.16V274.58M274.46 296.93V312.79M281.38 248.13V260.88M281.38 294.92V302.01M288.30 242.28V259.97M288.30 279.03V297.81M295.22 261.28V275.86M295.22 318.66V319.73M302.14 285.02V310.74M302.14 318.66V323.38M309.06 290.87V309.83M309.06 321.59V336.53M315.98 310.96V319.87M315.98 330.08V344.29M322.90 313.88V330.28M329.82 353.06V356.31M329.82 408.80V419.73M336.74 351.23V354.85M336.74 371.72V398.72M343.66 349.95V361.24M343.66 368.98V387.76M350.58 332.51V360.97M350.58 362.50V371.78M357.50 357.53V363.16M357.50 390.81V403.56M364.42 376.35V391.84M364.42 399.94V409.59M371.34 386.21V397.86M371.34 447.07V449.77M378.26 411.05V414.67M378.26 447.07V459.91M385.18 411.96V412.84M385.18 436.11V460.82M392.10 415.62V428.00M392.10 435.19V449.77M399.02 412.88V414.67M399.02 426.06V441.00M405.94 413.24V416.86M405.94 464.33V465.75M412.86 457.17V463.53M412.86 474.01V488.58M419.78 424.66V445.26M419.78 474.01V500.46M426.70 432.51V445.26M426.70 453.37V472.69M433.62 407.31V414.76M433.62 453.00V473.61M440.54 390.05V394.94M440.54 412.18V431.14M447.46 379.09V392.75M447.46 405.79V411.78M454.38 389.13V405.54M454.38 421.31V431.14M461.30 387.12V409.19M461.30 420.03V421.46M468.22 368.13V375.95M468.22 409.99V411.78M475.14 361.19V374.85M475.14 411.82V414.16M482.06 403.74V411.93M482.06 465.24V468.86M488.98 445.30V462.98M488.98 480.22V486.76M495.90 455.34V472.11M495.90 482.04V487.67M502.82 463.38V470.83M502.82 482.04V506.48M509.74 449.32V450.19M509.74 476.75V490.78M516.66 439.27V454.03M516.66 459.21V468.86M523.58 429.22V450.19M523.58 464.33V481.64M530.50 442.37V453.48M530.50 461.95V485.48M537.42 394.98V412.84M537.42 454.83V458.81M544.34 390.05V412.84M544.34 428.25V438.81M551.26 400.82V415.58M551.26 427.71V429.32M558.18 394.06V413.39M558.18 414.92V430.05M565.10 366.12V385.99M565.10 414.92V430.05M572.02 345.30V382.71M572.02 395.93V406.85M578.94 347.12V348.92M578.94 399.03V410.87M585.86 308.58V347.09M585.86 379.30V398.63M592.78 375.80V377.59M592.78 418.57V447.03M599.70 401.92V417.77M599.70 432.27V435.16M606.62 428.40V431.47M606.62 443.23V463.93M613.54 435.16V441.15M613.54 451.45V473.61M620.46 435.53V438.78M620.46 448.89V460.82M627.38 416.89V437.50M627.38 482.04V484.02M634.30 469.04V479.97M634.30 483.87V497.72M641.22 429.22V458.05M641.22 482.59V493.70M648.14 430.50V461.15M648.14 475.83V482.74M655.06 453.33V462.98M655.06 471.63V488.04M661.98 446.94V464.41M661.98 465.81V479.82M668.90 410.59V422.80M668.90 464.87V467.95M675.82 410.05V422.80M675.82 452.09V463.93M682.74 448.36V451.24M682.74 479.81V490.37M689.66 463.52V479.55M689.66 498.07V498.95M696.58 475.75V492.71M696.58 509.58V526.89M703.50 500.41V504.21M703.50 508.66V540.96M710.42 502.24V503.66M710.42 536.43V551.55M717.34 509.00V519.19M717.34 536.43V538.77M724.26 499.13V503.66M724.26 519.62V525.07M731.18 471.55V479.55M731.18 507.57V512.28M738.10 450.18V458.00M738.10 479.81V487.99M745.02 457.12V458.00M745.02 505.74V512.28M751.94 502.24V505.49M751.94 526.93V530.00M758.86 519.59V525.22M758.86 547.02V558.86M765.78 509.54V514.62M765.78 547.02V550.27M772.70 487.26V496.91M772.70 515.79V521.05M779.62 476.12V497.64M786.54 518.13V529.60M786.54 534.24V546.99M793.46 475.21V493.07M793.46 530.58V530.91M800.38 493.11V494.53M800.38 503.92V530.00M807.30 478.49V479.55M807.30 504.83V518.31M814.22 455.30V471.15M814.22 477.98V499.50M821.14 457.12V458.92M821.14 474.69V496.21M828.06 392.19V412.80M828.06 460.63V470.27M834.98 405.89V416.08M834.98 449.21V451.92M841.90 430.55V445.67M841.90 449.21V458.86M848.82 394.93V422.48M848.82 445.93V453.93M855.74 410.82V417.36M855.74 422.36V449.18M862.66 400.05V416.45M862.66 439.17V442.79M869.58 409.91V417.36M869.58 442.27V453.93M876.50 383.97V384.85M876.50 418.53V435.11M883.42 364.25V371.15M883.42 387.66V400.05M890.34 362.05V370.79M890.34 388.94V401.69M897.26 379.04V388.50M897.26 403.92V426.35M904.18 390.00V406.40M904.18 425.47V434.20M911.10 408.08V425.58M918.02 439.32V452.07M924.94 461.14V471.70M924.94 490.77V497.67M931.86 459.32V490.88M931.86 495.88V496.76M938.78 445.71V448.05M945.70 446.07V450.60M945.70 462.09V481.60M952.62 430.55V449.33M952.62 459.72V467.90M959.54 431.10V448.02M959.54 449.42V461.69M966.46 434.75V438.00M966.46 447.75V466.16M973.38 413.74V427.41M973.38 439.17V447.90M980.30 393.11V401.84M980.30 429.49V443.33M987.22 341.42V347.04M987.22 404.83V408.63M994.14 351.10V351.97M994.14 383.09V388.90M1001.06 372.10V383.57M1001.06 392.96V410.46M1007.98 346.07V392.98M1014.90 378.95V389.87M1014.90 395.79V400.87M1021.82 378.04V388.60M1021.82 418.62V422.24M1028.74 404.89V416.72M1028.74 431.22V438.13M1035.66 400.87V426.77M1035.66 430.49V434.11M1042.58 426.44V427.32M1042.58 446.02V458.77M1049.50 444.52V445.95M1056.42 476.16V489.65M1056.42 501.77V511.42M1063.34 482.19V495.86M1063.34 501.77V507.40M1070.26 447.85V452.20M1070.26 495.74V499.54M1077.18 437.44V454.03M1077.18 460.13V465.75M1084.10 449.32V458.05M1084.10 478.03V482.56M1091.02 461.19V476.86M1091.02 486.79V495.53M1097.94 483.11V486.72M1097.94 493.92V510.50M1104.86 490.78V494.55M1104.86 495.95V515.43M1111.78 468.13V470.83M1111.78 496.66V501.74M1118.70 442.37V459.87M1118.70 471.63V476.71M1125.62 458.08V459.87M1125.62 508.16V508.68M1132.54 481.28V483.62M1139.46 467.03V483.59M1139.46 484.99V493.70M1146.38 480.91V481.79M1146.38 499.94V513.61M1153.30 494.98V496.77M1153.30 518.57V535.16M1160.22 504.11V514.67M1160.22 517.66V528.40M1167.14 496.80V504.99M1167.14 517.66V520.55M1174.06 493.15V499.14M1174.06 505.79V516.89M1180.98 473.06V480.88M1180.98 501.77V502.28M1187.90 477.99V481.79M1194.82 495.89V503.34M1201.74 473.06V480.88M1208.66 469.95V479.05M1208.66 482.04V494.61M1215.58 473.06V481.79M1215.58 493.00V511.42M1222.50 456.26V473.94M1222.50 491.72V496.44M1229.42 445.11V453.12M1229.42 474.92V475.43M1236.34 424.29V441.24M1236.34 453.00V454.79M1243.26 434.16V441.24M1243.26 461.22V471.78M1250.18 457.17V461.15M1250.18 499.03V499.54M1257.10 490.05V497.86M1257.10 502.68V518.72M1264.02 488.95V492.75M1264.02 503.96V512.69M1270.94 478.17V491.84M1270.94 508.71V509.59M1277.86 497.17V507.73M1277.86 522.41V524.20M1284.78 495.89V497.86M1291.70 492.24V497.86M1291.70 501.77V515.43M1298.62 499.54V500.60M1298.62 513.64V525.66M1305.54 482.19V493.12M1305.54 512.36V516.53M1312.46 465.21V479.05M1312.46 493.00V494.98M1319.38 476.16V476.86M1319.38 506.34V510.50M1326.30 493.15V495.86M1326.30 505.79V511.78M1333.22 469.95V483.07M1333.22 495.38V508.68M1340.14 427.58V451.29M1340.14 481.50V488.77M1347.06 443.65V447.27M1347.06 480.95V483.84M1353.98 476.89V477.77M1353.98 491.54V504.84M1360.90 452.24V463.16M1360.90 491.54V494.79M1367.82 433.61V436.31M1367.82 462.68V470.50M1374.74 370.41V376.95M1374.74 435.29V439.82M1381.66 367.31V375.13M1381.66 415.19V424.29M1388.58 386.12V407.09M1388.58 414.65V420.64M1395.50 398.90V406.72M1395.50 458.12V458.63M1402.42 447.31V456.04M1402.42 463.05V472.69M1409.34 429.77V437.59M1409.34 460.86V470.87M1416.26 417.90V436.31M1416.26 438.39V447.31M1423.18 408.95V414.94M1423.18 435.83V451.87M1430.10 411.69V412.57M1430.10 434.01V448.04M1437.02 412.97V430.47M1437.02 459.03V464.47M1443.94 451.32V456.95M1443.94 477.84V485.66M1450.86 446.76V462.25M1450.86 476.02V476.89M1457.78 459.91V460.60M1457.78 486.98V498.45M1464.70 459.54V464.07M1464.70 489.17V489.68M1471.62 450.41V458.23M1471.62 462.68V475.43M1478.54 445.30V455.86M1478.54 485.15V485.66M1485.46 476.89V481.97M1485.46 487.89V503.74M1492.38 428.49V436.31M1492.38 487.89V489.68M1499.30 429.41V434.12M1499.30 451.18V457.72M1506.22 419.73V432.29M1506.22 448.98V464.66M1513.14 422.65V430.47M1513.14 442.04V453.70M1520.06 435.25V439.42M1520.06 444.42V471.78M1526.98 420.64V423.53M1526.98 445.88V456.80M1533.90 402.92V416.77M1533.90 426.15V431.60M1540.82 395.98V415.67M1540.82 438.03V444.02M1547.74 429.41V436.31M1547.74 455.01V458.08M1554.66 441.28V452.20M1554.66 476.02V483.65M1561.58 448.22V458.23M1568.50 454.06V456.95M1568.50 470.90V486.58M1575.42 459.54V468.82M1575.42 481.86V484.20M1582.34 463.20V484.69M1582.34 486.09V490.59M1589.26 471.96V483.80M1589.26 487.89V492.79M1596.18 469.22V479.78M1596.18 489.17V494.79M1603.10 472.33V475.03M1603.10 488.80V503.74M1610.02 453.15V457.32M1610.02 475.83V483.84M1616.94 454.43V460.97M1616.94 473.09V481.83M1623.86 461.00V468.28M1623.86 476.75V479.63M1630.78 443.11V448.18M1630.78 468.71V479.63M1637.70 430.32V447.64M1637.70 449.90V464.66M1644.62 425.39V446.36M1644.62 449.90V455.53M1651.54 438.17V446.36M1651.54 454.10V458.63M1658.46 445.30V454.58M1658.46 469.99V476.89M1665.38 446.76V458.23M1665.38 469.99V472.88M1672.30 432.10V437.18M1672.30 461.72V467.72M1679.22 426.62V438.46M1679.22 450.77V453.47M1686.14 438.13V444.49M1686.14 452.04V457.67M1693.06 431.55V444.49M1693.06 491.31V492.74M1699.98 466.26V471.88M1699.98 490.95V513.74M1706.90 451.64V455.08M1713.82 445.80V450.85M1713.82 452.25V468.08M1720.74 437.21V452.34M1720.74 461.18V465.53M1727.66 432.65V436.27M1727.66 460.81V465.53M1734.58 429.36V435.72M1734.58 442.18V455.30M1741.50 366.07V366.95M1741.50 440.35V443.06M1748.42 362.42V365.67M1748.42 394.69V397.76M1755.34 311.28V315.81M1755.34 394.69V404.70M1762.26 223.70V275.81M1762.26 315.70V323.70M1769.18 191.92V250.06M1769.18 276.06V281.69M1776.10 134.75V198.82M1776.10 249.94V262.88M1783.02 134.75V163.02M1783.02 200.90V212.37M1789.94 155.21V157.73M1789.94 159.26V202.69M1796.86 100.05V142.57M1796.86 158.89V188.63M1803.78 109.73V141.65M1803.78 157.43V174.93M1810.70 139.32V155.35M1810.70 216.43V256.12M1817.62 189.18V211.06M1817.62 217.71V227.35"/>
<path class="ch" d="M9.50 459.46h4v36.33h-4zM30.26 480.47h4v9.85h-4zM44.10 484.48h4v14.96h-4zM64.86 514.26h4v24.46h-4zM71.78 512.43h4v7.11h-4zM85.62 501.47h4v26.28h-4zM99.46 509.69h4v31.76h-4zM113.30 470.42h4v39.98h-4zM120.22 458.55h4v9.85h-4zM127.14 395.53h4v63.73h-4zM140.98 408.32h4v18.61h-4zM154.82 386.40h4v29.02h-4zM168.66 382.38h4v4.91h-4zM175.58 365.40h4v18.06h-4zM189.42 347.68h4v22.45h-4zM196.34 258.64h4v90.12h-4zM203.26 243.66h4v13.86h-4zM224.02 292.43h4v51.40h-4zM244.78 288.41h4v16.97h-4zM258.62 293.71h4v1.81h-4zM265.54 274.53h4v20.80h-4zM279.38 261.38h4v33.04h-4zM300.14 311.24h4v6.92h-4zM327.82 356.81h4v51.49h-4zM341.66 361.74h4v6.74h-4zM376.26 415.17h4v31.40h-4zM390.10 428.50h4v6.19h-4zM397.02 415.17h4v10.39h-4zM417.78 445.76h4v27.75h-4zM431.62 415.26h4v37.24h-4zM438.54 395.44h4v16.24h-4zM459.30 409.69h4v9.85h-4zM466.22 376.45h4v33.04h-4zM493.90 472.61h4v8.93h-4zM507.74 450.69h4v25.55h-4zM528.50 453.98h4v7.47h-4zM535.42 413.34h4v40.99h-4zM549.26 416.08h4v11.12h-4zM563.10 386.49h4v27.93h-4zM576.94 349.42h4v49.12h-4zM618.46 439.28h4v9.12h-4zM632.30 480.47h4v2.91h-4zM639.22 458.55h4v23.54h-4zM653.06 463.48h4v7.65h-4zM666.90 423.30h4v41.08h-4zM701.50 504.71h4v3.45h-4zM715.34 519.69h4v16.24h-4zM722.26 504.16h4v14.96h-4zM729.18 480.05h4v27.01h-4zM736.10 458.50h4v20.80h-4zM763.78 515.12h4v31.40h-4zM770.70 497.41h4v17.88h-4zM784.54 530.10h4v3.64h-4zM791.46 493.57h4v36.51h-4zM805.30 480.05h4v24.27h-4zM812.22 471.65h4v5.83h-4zM819.14 459.42h4v14.78h-4zM826.06 413.30h4v46.83h-4zM839.90 446.17h4v2.54h-4zM846.82 422.98h4v22.45h-4zM853.74 417.86h4v4.00h-4zM867.58 417.86h4v23.91h-4zM874.50 385.35h4v32.68h-4zM881.42 371.65h4v15.51h-4zM936.78 448.55h4v49.94h-4zM950.62 449.83h4v9.39h-4zM964.46 438.50h4v8.75h-4zM971.38 427.91h4v10.76h-4zM978.30 402.34h4v26.65h-4zM985.22 347.54h4v56.79h-4zM1012.90 390.37h4v4.91h-4zM1033.66 427.27h4v2.72h-4zM1061.34 496.36h4v4.91h-4zM1068.26 452.70h4v42.54h-4zM1109.78 471.33h4v24.82h-4zM1116.70 460.37h4v10.76h-4zM1130.54 484.12h4v25.01h-4zM1158.22 515.17h4v1.99h-4zM1165.14 505.49h4v11.67h-4zM1172.06 499.64h4v5.64h-4zM1178.98 481.38h4v19.89h-4zM1192.82 503.84h4v39.80h-4zM1199.74 481.38h4v24.82h-4zM1206.66 479.55h4v1.99h-4zM1220.50 474.44h4v16.79h-4zM1227.42 453.62h4v20.80h-4zM1234.34 441.74h4v10.76h-4zM1262.02 493.25h4v10.21h-4zM1282.78 498.36h4v25.74h-4zM1303.54 493.62h4v18.25h-4zM1310.46 479.55h4v12.95h-4zM1324.30 496.36h4v8.93h-4zM1331.22 483.57h4v11.31h-4zM1338.14 451.79h4v29.21h-4zM1358.90 463.66h4v27.38h-4zM1365.82 436.81h4v25.37h-4zM1372.74 377.45h4v57.33h-4zM1386.58 407.59h4v6.56h-4zM1407.34 438.09h4v22.27h-4zM1421.18 415.44h4v19.89h-4zM1448.86 462.75h4v12.77h-4zM1462.70 464.57h4v24.09h-4zM1469.62 458.73h4v3.45h-4zM1490.38 436.81h4v50.58h-4zM1504.22 432.79h4v15.69h-4zM1524.98 424.03h4v21.35h-4zM1531.90 417.27h4v8.38h-4zM1559.58 458.73h4v18.43h-4zM1587.26 484.30h4v3.09h-4zM1601.10 475.53h4v12.77h-4zM1608.02 457.82h4v17.52h-4zM1621.86 468.78h4v7.47h-4zM1628.78 448.68h4v19.53h-4zM1642.62 446.86h4v2.54h-4zM1663.38 458.73h4v10.76h-4zM1670.30 437.68h4v23.54h-4zM1684.14 444.99h4v6.56h-4zM1697.98 472.38h4v18.06h-4zM1704.90 455.58h4v16.60h-4zM1725.66 436.77h4v23.54h-4zM1739.50 367.45h4v72.40h-4zM1753.34 316.31h4v77.88h-4zM1760.26 276.31h4v38.89h-4zM1767.18 250.56h4v25.01h-4zM1774.10 199.32h4v50.12h-4zM1781.02 163.52h4v36.88h-4zM1794.86 143.07h4v15.33h-4zM1815.62 211.56h4v5.64h-4z"/>
<path class="cf" d="M15.92 459.87h5v18.15h-5zM22.84 470.83h5v19.06h-5zM36.68 484.90h5v21.80h-5zM50.52 482.13h5v1.40h-5zM57.44 483.98h5v55.23h-5zM78.20 510.65h5v19.80h-5zM92.04 497.68h5v39.34h-5zM105.88 508.28h5v2.63h-5zM133.56 394.67h5v32.76h-5zM147.40 408.92h5v8.84h-5zM161.24 382.98h5v6.10h-5zM182.00 362.16h5v21.80h-5zM209.68 246.27h5v57.79h-5zM216.60 305.63h5v38.70h-5zM230.44 291.75h5v6.46h-5zM237.36 299.60h5v7.38h-5zM251.20 286.81h5v10.12h-5zM271.96 274.58h5v22.35h-5zM285.80 259.97h5v19.06h-5zM292.72 275.86h5v42.81h-5zM306.56 309.83h5v11.76h-5zM313.48 319.87h5v10.21h-5zM320.40 330.28h5v80.34h-5zM334.24 354.85h5v16.87h-5zM348.08 360.97h5v1.53h-5zM355.00 363.16h5v27.65h-5zM361.92 391.84h5v8.11h-5zM368.84 397.86h5v49.20h-5zM382.68 412.84h5v23.27h-5zM403.44 416.86h5v47.47h-5zM410.36 463.53h5v10.48h-5zM424.20 445.26h5v8.11h-5zM444.96 392.75h5v13.04h-5zM451.88 405.54h5v15.78h-5zM472.64 374.85h5v36.96h-5zM479.56 411.93h5v53.31h-5zM486.48 462.98h5v17.24h-5zM500.32 470.83h5v11.21h-5zM514.16 454.03h5v5.18h-5zM521.08 450.19h5v14.13h-5zM541.84 412.84h5v15.41h-5zM555.68 413.39h5v1.53h-5zM569.52 382.71h5v13.22h-5zM583.36 347.09h5v32.22h-5zM590.28 377.59h5v40.98h-5zM597.20 417.77h5v14.50h-5zM604.12 431.47h5v11.76h-5zM611.04 441.15h5v10.30h-5zM624.88 437.50h5v44.54h-5zM645.64 461.15h5v14.68h-5zM659.48 464.41h5v1.40h-5zM673.32 422.80h5v29.29h-5zM680.24 451.24h5v28.56h-5zM687.16 479.55h5v18.52h-5zM694.08 492.71h5v16.87h-5zM707.92 503.66h5v32.76h-5zM742.52 458.00h5v47.74h-5zM749.44 505.49h5v21.44h-5zM756.36 525.22h5v21.80h-5zM777.12 497.64h5v36.60h-5zM797.88 494.53h5v9.38h-5zM832.48 416.08h5v33.13h-5zM860.16 416.45h5v22.72h-5zM887.84 370.79h5v18.15h-5zM894.76 388.50h5v15.41h-5zM901.68 406.40h5v19.06h-5zM908.60 425.58h5v25.82h-5zM915.52 452.07h5v19.89h-5zM922.44 471.70h5v19.06h-5zM929.36 490.88h5v5.00h-5zM943.20 450.60h5v11.48h-5zM957.04 448.02h5v1.40h-5zM991.64 351.97h5v31.12h-5zM998.56 383.57h5v9.38h-5zM1005.48 392.98h5v6.83h-5zM1019.32 388.60h5v30.02h-5zM1026.24 416.72h5v14.50h-5zM1040.08 427.32h5v18.70h-5zM1047.00 445.95h5v44.86h-5zM1053.92 489.65h5v12.12h-5zM1074.68 454.03h5v6.10h-5zM1081.60 458.05h5v19.98h-5zM1088.52 476.86h5v9.93h-5zM1095.44 486.72h5v7.19h-5zM1102.36 494.55h5v1.40h-5zM1123.12 459.87h5v48.29h-5zM1136.96 483.59h5v1.40h-5zM1143.88 481.79h5v18.15h-5zM1150.80 496.77h5v21.80h-5zM1185.40 481.79h5v62.35h-5zM1213.08 481.79h5v11.21h-5zM1240.76 441.24h5v19.98h-5zM1247.68 461.15h5v37.88h-5zM1254.60 497.86h5v4.82h-5zM1268.44 491.84h5v16.87h-5zM1275.36 507.73h5v14.68h-5zM1289.20 497.86h5v3.91h-5zM1296.12 500.60h5v13.04h-5zM1316.88 476.86h5v29.48h-5zM1344.56 447.27h5v33.68h-5zM1351.48 477.77h5v13.77h-5zM1379.16 375.13h5v40.07h-5zM1393.00 406.72h5v51.39h-5zM1399.92 456.04h5v7.01h-5zM1413.76 436.31h5v2.08h-5zM1427.60 412.57h5v21.44h-5zM1434.52 430.47h5v28.56h-5zM1441.44 456.95h5v20.89h-5zM1455.28 460.60h5v26.37h-5zM1476.04 455.86h5v29.29h-5zM1482.96 481.97h5v5.91h-5zM1496.80 434.12h5v17.06h-5zM1510.64 430.47h5v11.58h-5zM1517.56 439.42h5v5.00h-5zM1538.32 415.67h5v22.35h-5zM1545.24 436.31h5v18.70h-5zM1552.16 452.20h5v23.81h-5zM1566.00 456.95h5v13.95h-5zM1572.92 468.82h5v13.04h-5zM1579.84 484.69h5v1.40h-5zM1593.68 479.78h5v9.38h-5zM1614.44 460.97h5v12.12h-5zM1635.20 447.64h5v2.26h-5zM1649.04 446.36h5v7.74h-5zM1655.96 454.58h5v15.41h-5zM1676.72 438.46h5v12.31h-5zM1690.56 444.49h5v46.83h-5zM1711.32 450.85h5v1.40h-5zM1718.24 452.34h5v8.84h-5zM1732.08 435.72h5v6.46h-5zM1745.92 365.67h5v29.02h-5zM1787.44 157.73h5v1.53h-5zM1801.28 141.65h5v15.78h-5zM1808.20 155.35h5v61.07h-5z"/>
</g>
<g clip-path="url(#cr)">
<path class="ln" d="M11.50 662.05L18.42 666.76L25.34 669.73L32.26 668.11L39.18 674.62L46.10 670.47L53.02 670.12L59.94 683.00L66.86 677.96L73.78 677.60L80.70 681.48L87.62 675.48L94.54 682.89L101.46 677.45L108.38 677.65L115.30 670.18L122.22 668.19L129.14 659.27L136.06 666.60L142.98 664.03L149.90 666.16L156.82 661.86L163.74 662.45L170.66 661.54L177.58 659.12L184.50 664.22L191.42 658.99L198.34 649.60L205.26 648.36L212.18 662.35L219.10 670.07L226.02 664.02L232.94 665.06L239.86 666.78L246.78 664.48L253.70 666.24L260.62 665.83L267.54 663.14L274.46 668.35L281.38 663.30L288.30 667.33L295.22 675.64L302.14 674.44L309.06 676.53L315.98 678.32L322.90 692.17L329.82 682.21L336.74 684.47L343.66 682.73L350.58 682.67L357.50 687.63L364.42 689.12L371.34 696.09L378.26 689.28L385.18 692.31L392.10 690.71L399.02 687.76L405.94 695.18L412.86 696.51L419.78 690.13L426.70 691.28L433.62 683.19L440.54 679.38L447.46 681.32L454.38 684.29L461.30 681.84L468.22 675.19L475.14 682.27L482.06 691.06L488.98 693.22L495.90 691.58L502.82 693.01L509.74 685.91L516.66 687.38L523.58 688.32L530.50 685.85L537.42 676.87L544.34 680.04L551.26 677.52L558.18 677.04L565.10 671.30L572.02 673.70L578.94 665.12L585.86 672.56L592.78 680.97L599.70 683.61L606.62 685.71L613.54 687.30L620.46 684.39L627.38 692.37L634.30 692.04L641.22 686.38L648.14 689.70L655.06 686.57L661.98 686.88L668.90 676.72L675.82 683.12L682.74 688.58L689.66 691.86L696.58 693.86L703.50 692.58L710.42 698.02L717.34 693.31L724.26 689.07L731.18 682.98L738.10 678.04L745.02 687.70L751.94 691.40L758.86 694.68L765.78 687.07L772.70 683.18L779.62 689.69L786.54 688.81L793.46 680.85L800.38 682.81L807.30 677.96L814.22 676.29L821.14 673.85L828.06 665.78L834.98 674.02L841.90 673.52L848.82 669.42L855.74 668.54L862.66 673.78L869.58 669.84L876.50 664.42L883.42 662.32L890.34 666.92L897.26 670.81L904.18 676.09L911.10 681.86L918.02 686.01L924.94 689.58L931.86 690.53L938.78 679.43L945.70 682.20L952.62 679.55L959.54 679.26L966.46 676.92L973.38 674.47L980.30 668.98L987.22 659.72L994.14 669.02L1001.06 671.42L1007.98 673.11L1014.90 671.29L1021.82 678.26L1028.74 681.16L1035.66 680.28L1042.58 684.63L1049.50 693.52L1056.42 695.42L1063.34 693.91L1070.26 682.48L1077.18 684.01L1084.10 687.77L1091.02 689.56L1097.94 691.03L1104.86 691.35L1111.78 684.20L1118.70 681.15L1125.62 691.88L1132.54 685.48L1139.46 685.48L1146.38 688.95L1153.30 692.83L1160.22 691.86L1167.14 688.76L1174.06 686.89L1180.98 681.27L1187.90 695.23L1194.82 684.67L1201.74 679.60L1208.66 679.20L1215.58 682.26L1222.50 677.91L1229.42 673.33L1236.34 670.86L1243.26 676.03L1250.18 684.81L1257.10 685.58L1264.02 683.20L1270.94 686.68L1277.86 689.69L1284.78 683.08L1291.70 683.83L1298.62 686.74L1305.54 681.10L1312.46 677.38L1319.38 684.29L1326.30 681.62L1333.22 678.18L1340.14 670.61L1347.06 678.46L1353.98 681.10L1360.90 674.56L1367.82 669.04L1374.74 659.50L1381.66 668.90L1388.58 667.73L1395.50 678.63L1402.42 679.60L1409.34 674.95L1416.26 674.95L1423.18 670.74L1430.10 675.07L1437.02 680.57L1443.94 684.38L1450.86 681.07L1457.78 685.94L1464.70 680.95L1471.62 679.67L1478.54 685.25L1485.46 685.82L1492.38 674.57L1499.30 677.76L1506.22 674.12L1513.14 676.26L1520.06 676.85L1526.98 672.45L1533.90 671.02L1540.82 676.67L1547.74 680.99L1554.66 685.92L1561.58 681.46L1568.50 684.31L1575.42 686.88L1582.34 687.74L1589.26 687.45L1596.18 688.66L1603.10 684.05L1610.02 678.43L1616.94 683.00L1623.86 681.68L1630.78 675.43L1637.70 675.75L1644.62 674.87L1651.54 677.56L1658.46 683.32L1665.38 679.27L1672.30 672.33L1679.22 677.16L1686.14 675.34L1693.06 689.84L1699.98 683.64L1706.90 678.58L1713.82 677.35L1720.74 680.40L1727.66 673.32L1734.58 675.06L1741.50 659.03L1748.42 667.29L1755.34 655.84L1762.26 651.60L1769.18 649.20L1776.10 645.10L1783.02 642.69L1789.94 642.35L1796.86 641.36L1803.78 645.51L1810.70 660.61L1817.62 660.08" stroke="#ff33ee" stroke-width="1.15" opacity="0.7"/>
<path class="ln" d="M11.50 651.27L18.42 659.90L25.34 665.22L32.26 662.76L39.18 674.22L46.10 667.51L53.02 666.97L59.94 687.79L66.86 679.44L73.78 678.84L80.70 684.97L87.62 674.96L94.54 686.43L101.46 677.68L108.38 677.99L115.30 666.49L122.22 663.61L129.14 651.80L136.06 663.48L142.98 659.93L149.90 663.34L156.82 657.25L163.74 658.23L170.66 656.90L177.58 653.40L184.50 662.28L191.42 654.42L198.34 642.61L205.26 641.23L212.18 662.48L219.10 673.33L226.02 664.37L232.94 665.86L239.86 668.40L246.78 664.80L253.70 667.53L260.62 666.85L267.54 662.37L274.46 670.93L281.38 662.50L288.30 669.01L295.22 681.64L302.14 679.51L309.06 682.67L315.98 685.39L322.90 703.82L329.82 687.00L336.74 690.10L343.66 687.19L350.58 687.10L357.50 694.34L364.42 696.46L371.34 705.71L378.26 693.95L385.18 698.21L392.10 695.45L399.02 690.36L405.94 701.25L412.86 703.06L419.78 692.20L426.70 693.98L433.62 680.84L440.54 675.06L447.46 678.40L454.38 683.48L461.30 679.47L468.22 669.19L475.14 681.28L482.06 694.61L488.98 697.66L495.90 694.92L502.82 697.07L509.74 685.27L516.66 687.67L523.58 689.23L530.50 684.97L537.42 670.73L544.34 676.39L551.26 672.48L558.18 671.73L565.10 663.10L572.02 667.63L578.94 655.64L585.86 668.59L592.78 681.94L599.70 685.92L606.62 689.06L613.54 691.45L620.46 686.42L627.38 698.33L634.30 697.74L641.22 688.00L648.14 693.16L655.06 687.82L661.98 688.34L668.90 671.90L675.82 682.58L682.74 691.01L689.66 695.84L696.58 698.73L703.50 696.51L710.42 704.36L717.34 696.32L724.26 689.29L731.18 679.68L738.10 672.36L745.02 688.05L751.94 693.54L758.86 698.26L765.78 686.40L772.70 680.60L779.62 690.66L786.54 689.28L793.46 677.28L800.38 680.48L807.30 673.31L814.22 670.89L821.14 667.36L828.06 656.57L834.98 670.36L841.90 669.65L848.82 663.76L855.74 662.51L862.66 671.55L869.58 665.56L876.50 657.88L883.42 655.07L890.34 663.02L897.26 669.56L904.18 678.10L911.10 686.85L918.02 692.81L924.94 697.71L931.86 699.01L938.78 680.01L945.70 684.28L952.62 679.96L959.54 679.48L966.46 675.54L973.38 671.49L980.30 662.96L987.22 650.66L994.14 665.98L1001.06 669.78L1007.98 672.49L1014.90 669.62L1021.82 680.79L1028.74 685.21L1035.66 683.67L1042.58 690.38L1049.50 702.62L1056.42 705.01L1063.34 702.28L1070.26 682.87L1077.18 685.26L1084.10 691.04L1091.02 693.74L1097.94 695.97L1104.86 696.45L1111.78 683.75L1118.70 678.68L1125.62 695.90L1132.54 685.58L1139.46 685.58L1146.38 691.12L1153.30 697.04L1160.22 695.34L1167.14 689.93L1174.06 686.67L1180.98 677.28L1187.90 699.45L1194.82 683.37L1201.74 676.17L1208.66 675.59L1215.58 680.56L1222.50 674.06L1229.42 667.50L1236.34 664.07L1243.26 672.89L1250.18 686.67L1257.10 687.84L1264.02 683.92L1270.94 689.41L1277.86 694.00L1284.78 682.93L1291.70 684.17L1298.62 688.93L1305.54 679.49L1312.46 673.59L1319.38 685.15L1326.30 680.81L1333.22 675.32L1340.14 664.16L1347.06 677.15L1353.98 681.31L1360.90 671.37L1367.82 663.60L1374.74 651.64L1381.66 666.02L1388.58 664.43L1395.50 680.39L1402.42 681.75L1409.34 674.74L1416.26 674.74L1423.18 668.34L1430.10 675.22L1437.02 683.59L1443.94 689.16L1450.86 683.62L1457.78 690.83L1464.70 682.56L1471.62 680.45L1478.54 689.10L1485.46 689.96L1492.38 671.80L1499.30 676.92L1506.22 671.35L1513.14 674.91L1520.06 675.90L1526.98 668.83L1533.90 666.59L1540.82 676.50L1547.74 683.62L1554.66 691.25L1561.58 683.47L1568.50 687.96L1575.42 691.94L1582.34 693.28L1589.26 692.71L1596.18 694.70L1603.10 685.70L1610.02 675.66L1616.94 683.86L1623.86 681.50L1630.78 670.91L1637.70 671.51L1644.62 670.03L1651.54 675.33L1658.46 685.89L1665.38 678.49L1672.30 667.05L1679.22 675.67L1686.14 672.67L1693.06 695.48L1699.98 685.42L1706.90 677.61L1713.82 675.74L1720.74 680.66L1727.66 669.79L1734.58 672.67L1741.50 651.43L1748.42 663.93L1755.34 650.02L1762.26 645.37L1769.18 642.79L1776.10 638.56L1783.02 636.18L1789.94 635.84L1796.86 634.84L1803.78 641.25L1810.70 663.34L1817.62 662.51" stroke="#4444ff" stroke-width="1.15" opacity="0.62"/>
<path class="ln" d="M11.50 675.01L18.42 673.00L25.34 671.54L32.26 670.72L39.18 670.26L46.10 669.72L53.02 669.26L59.94 669.35L66.86 669.08L73.78 668.62L80.70 669.08L87.62 669.35L94.54 671.36L101.46 672.71L108.38 674.62L115.30 675.09L122.22 674.98L129.14 674.19L136.06 673.43L142.98 672.88L149.90 672.63L156.82 670.44L163.74 668.93L170.66 667.36L177.58 665.11L184.50 664.20L191.42 661.91L198.34 659.41L205.26 656.78L212.18 656.50L219.10 657.19L226.02 658.09L232.94 658.26L239.86 658.86L246.78 658.97L253.70 659.70L260.62 660.32L267.54 660.71L274.46 661.96L281.38 661.98L288.30 663.02L295.22 665.81L302.14 668.54L309.06 669.98L315.98 670.85L322.90 673.66L329.82 675.17L336.74 676.72L343.66 678.32L350.58 679.72L357.50 681.68L364.42 684.12L371.34 686.60L378.26 688.85L385.18 690.94L392.10 691.92L399.02 692.70L405.94 694.02L412.86 695.29L419.78 694.46L426.70 694.96L433.62 694.29L440.54 693.43L447.46 692.81L454.38 692.03L461.30 690.82L468.22 688.21L475.14 687.30L482.06 687.05L488.98 687.20L495.90 687.53L502.82 687.23L509.74 685.96L516.66 685.63L523.58 685.30L530.50 685.59L537.42 685.28L544.34 685.14L551.26 684.35L558.18 683.80L565.10 683.36L572.02 682.39L578.94 679.61L585.86 677.53L592.78 676.60L599.70 675.81L606.62 676.08L613.54 676.35L620.46 676.15L627.38 677.10L634.30 679.03L641.22 679.86L648.14 681.34L655.06 682.49L661.98 684.29L668.90 684.59L675.82 686.52L682.74 688.12L689.66 689.11L696.58 690.03L703.50 690.56L710.42 691.48L717.34 692.19L724.26 691.54L731.18 690.25L738.10 689.14L745.02 688.77L751.94 689.18L758.86 689.89L765.78 690.92L772.70 690.78L779.62 690.76L786.54 690.29L793.46 688.76L800.38 687.61L807.30 685.40L814.22 683.58L821.14 682.01L828.06 680.36L834.98 680.22L841.90 678.90L848.82 676.78L855.74 674.22L862.66 673.16L869.58 672.09L876.50 669.75L883.42 667.30L890.34 666.28L897.26 665.50L904.18 665.85L911.10 666.99L918.02 668.80L924.94 671.74L931.86 673.79L938.78 674.53L945.70 675.99L952.62 677.24L959.54 677.81L966.46 678.52L973.38 679.49L980.30 680.06L987.22 679.17L994.14 678.92L1001.06 678.32L1007.98 677.30L1014.90 675.64L1021.82 674.43L1028.74 673.45L1035.66 673.71L1042.58 674.14L1049.50 675.76L1056.42 677.58L1063.34 679.50L1070.26 680.31L1077.18 681.90L1084.10 684.79L1091.02 686.77L1097.94 688.64L1104.86 690.35L1111.78 691.36L1118.70 691.21L1125.62 691.97L1132.54 692.11L1139.46 691.77L1146.38 690.94L1153.30 690.38L1160.22 689.88L1167.14 690.38L1174.06 690.49L1180.98 689.50L1187.90 689.91L1194.82 689.01L1201.74 687.56L1208.66 686.98L1215.58 687.11L1222.50 685.55L1229.42 684.26L1236.34 682.72L1243.26 681.42L1250.18 680.68L1257.10 680.15L1264.02 679.72L1270.94 679.91L1277.86 681.11L1284.78 679.93L1291.70 679.98L1298.62 680.89L1305.54 681.17L1312.46 680.68L1319.38 681.47L1326.30 682.42L1333.22 683.22L1340.14 682.60L1347.06 681.92L1353.98 681.45L1360.90 680.55L1367.82 678.71L1374.74 675.69L1381.66 674.48L1388.58 673.07L1395.50 672.46L1402.42 672.62L1409.34 672.70L1416.26 671.96L1423.18 671.07L1430.10 671.06L1437.02 672.45L1443.94 673.31L1450.86 673.47L1457.78 674.86L1464.70 676.22L1471.62 678.27L1478.54 679.92L1485.46 681.75L1492.38 681.13L1499.30 680.79L1506.22 680.55L1513.14 680.56L1520.06 681.10L1526.98 680.64L1533.90 679.43L1540.82 678.52L1547.74 678.52L1554.66 678.55L1561.58 678.62L1568.50 679.16L1575.42 679.36L1582.34 679.60L1589.26 681.09L1596.18 682.36L1603.10 683.38L1610.02 683.44L1616.94 684.01L1623.86 684.91L1630.78 685.22L1637.70 684.86L1644.62 683.89L1651.54 682.75L1658.46 682.93L1665.38 682.25L1672.30 680.47L1679.22 679.21L1686.14 677.78L1693.06 677.84L1699.98 677.82L1706.90 677.96L1713.82 677.38L1720.74 677.32L1727.66 677.24L1734.58 677.32L1741.50 675.99L1748.42 675.18L1755.34 672.62L1762.26 670.25L1769.18 668.52L1776.10 665.87L1783.02 663.26L1789.94 659.00L1796.86 655.39L1803.78 652.79L1810.70 651.90L1817.62 650.61" stroke="#2e8b57" stroke-width="1.9" opacity="0.85"/>
</g>
<g clip-path="url(#cs)">
<path class="ln" d="M11.50 760.37L18.42 765.21L25.34 769.05L32.26 777.45L39.18 789.87L46.10 793.53L53.02 793.63L59.94 792.71L66.86 792.72L73.78 794.31L80.70 792.52L87.62 786.00L94.54 791.16L101.46 781.27L108.38 781.51L115.30 765.11L122.22 758.33L129.14 752.47L136.06 756.52L142.98 760.56L149.90 765.98L156.82 761.66L163.74 765.80L170.66 765.98L177.58 770.00L184.50 773.25L191.42 769.68L198.34 764.50L205.26 756.85L212.18 764.13L219.10 780.42L226.02 788.47L232.94 790.50L239.86 786.30L246.78 777.80L253.70 772.34L260.62 767.96L267.54 767.81L274.46 771.91L281.38 766.50L288.30 771.84L295.22 781.53L302.14 796.84L309.06 806.05L315.98 803.26L322.90 806.59L329.82 799.76L336.74 794.55L343.66 782.65L350.58 780.77L357.50 781.66L364.42 790.70L371.34 802.46L378.26 802.10L385.18 799.58L392.10 791.57L399.02 785.72L405.94 790.42L412.86 794.64L419.78 794.36L426.70 782.96L433.62 766.83L440.54 759.52L447.46 754.12L454.38 762.14L461.30 768.30L468.22 766.36L475.14 772.53L482.06 786.87L488.98 805.11L495.90 808.74L502.82 805.75L509.74 794.80L516.66 781.60L523.58 773.09L530.50 770.02L537.42 767.78L544.34 766.59L551.26 765.53L558.18 766.84L565.10 762.86L572.02 768.80L578.94 764.29L585.86 772.36L592.78 778.06L599.70 796.95L606.62 803.34L613.54 804.94L620.46 799.51L627.38 801.91L634.30 800.16L641.22 797.16L648.14 791.63L655.06 786.92L661.98 787.06L668.90 774.23L675.82 773.31L682.74 781.00L689.66 799.68L696.58 806.73L703.50 803.56L710.42 800.51L717.34 795.78L724.26 787.96L731.18 771.29L738.10 758.83L745.02 764.42L751.94 783.49L758.86 801.55L765.78 800.97L772.70 788.39L779.62 784.14L786.54 785.36L793.46 781.96L800.38 775.17L807.30 762.07L814.22 760.59L821.14 752.94L828.06 754.88L834.98 760.96L841.90 771.02L848.82 774.21L855.74 771.49L862.66 775.60L869.58 777.00L876.50 770.07L883.42 756.53L890.34 754.99L897.26 764.69L904.18 782.19L911.10 797.99L918.02 810.17L924.94 811.87L931.86 811.55L938.78 799.22L945.70 786.60L952.62 770.94L959.54 766.85L966.46 761.01L973.38 759.38L980.30 756.25L987.22 754.76L994.14 757.53L1001.06 765.55L1007.98 777.22L1014.90 785.66L1021.82 796.12L1028.74 803.99L1035.66 807.87L1042.58 805.41L1049.50 807.11L1056.42 807.74L1063.34 808.32L1070.26 792.89L1077.18 779.27L1084.10 772.11L1091.02 780.89L1097.94 791.33L1104.86 795.69L1111.78 787.44L1118.70 775.74L1125.62 779.26L1132.54 784.60L1139.46 792.99L1146.38 790.92L1153.30 795.62L1160.22 797.54L1167.14 792.17L1174.06 782.40L1180.98 769.57L1187.90 779.19L1194.82 781.14L1201.74 780.76L1208.66 761.40L1215.58 758.57L1222.50 760.59L1229.42 760.56L1236.34 758.20L1243.26 762.99L1250.18 782.28L1257.10 796.32L1264.02 803.26L1270.94 800.78L1277.86 803.94L1284.78 797.27L1291.70 788.79L1298.62 783.66L1305.54 779.83L1312.46 773.96L1319.38 772.51L1326.30 778.17L1333.22 780.87L1340.14 772.19L1347.06 774.78L1353.98 783.71L1360.90 787.24L1367.82 775.80L1374.74 760.04L1381.66 757.84L1388.58 762.25L1395.50 780.72L1402.42 793.25L1409.34 801.21L1416.26 795.01L1423.18 779.74L1430.10 773.38L1437.02 777.93L1443.94 792.94L1450.86 799.95L1457.78 801.31L1464.70 794.81L1471.62 784.28L1478.54 781.57L1485.46 784.24L1492.38 781.54L1499.30 771.55L1506.22 758.84L1513.14 762.23L1520.06 763.38L1526.98 761.73L1533.90 760.52L1540.82 765.05L1547.74 780.57L1554.66 796.28L1561.58 799.98L1568.50 801.08L1575.42 801.13L1582.34 805.03L1589.26 804.69L1596.18 803.38L1603.10 791.52L1610.02 775.46L1616.94 765.03L1623.86 763.85L1630.78 763.85L1637.70 763.23L1644.62 764.83L1651.54 774.50L1658.46 784.72L1665.38 790.70L1672.30 784.31L1679.22 776.64L1686.14 770.32L1693.06 786.80L1699.98 787.96L1706.90 787.24L1713.82 770.84L1720.74 767.06L1727.66 760.75L1734.58 761.77L1741.50 754.09L1748.42 759.91L1755.34 754.22L1762.26 759.02L1769.18 757.32L1776.10 761.95L1783.02 759.25L1789.94 756.80L1796.86 756.74L1803.78 762.20L1810.70 776.08L1817.62 786.78" stroke="#4444ff" stroke-width="1.15" opacity="0.62"/>
<path class="ln" d="M11.50 762.66L18.42 762.20L25.34 764.67L32.26 770.42L39.18 778.64L46.10 786.86L53.02 792.34L59.94 792.79L66.86 793.02L73.78 793.25L80.70 793.18L87.62 790.94L94.54 789.89L101.46 786.14L108.38 784.64L115.30 775.96L122.22 768.32L129.14 758.63L136.06 755.77L142.98 756.52L149.90 761.02L156.82 762.73L163.74 764.48L170.66 764.48L177.58 767.26L184.50 769.75L191.42 770.98L198.34 769.14L205.26 763.67L212.18 761.82L219.10 767.13L226.02 777.67L232.94 786.46L239.86 788.42L246.78 784.86L253.70 778.81L260.62 772.70L267.54 769.37L274.46 769.23L281.38 768.74L288.30 770.09L295.22 773.29L302.14 783.40L309.06 794.81L315.98 802.05L322.90 805.30L329.82 803.20L336.74 800.30L343.66 792.32L350.58 785.99L357.50 781.69L364.42 784.38L371.34 791.61L378.26 798.42L385.18 801.38L392.10 797.75L399.02 792.29L405.94 789.24L412.86 790.26L419.78 793.14L426.70 790.65L433.62 781.38L440.54 769.77L447.46 760.15L454.38 758.59L461.30 761.52L468.22 765.60L475.14 769.06L482.06 775.26L488.98 788.17L495.90 800.24L502.82 806.53L509.74 803.10L516.66 794.05L523.58 783.16L530.50 774.90L537.42 770.30L544.34 768.13L551.26 766.64L558.18 766.32L565.10 765.08L572.02 766.17L578.94 765.32L585.86 768.49L592.78 771.57L599.70 782.46L606.62 792.78L613.54 801.74L620.46 802.60L627.38 802.12L634.30 800.52L641.22 799.74L648.14 796.32L655.06 791.90L661.98 788.54L668.90 782.74L675.82 778.20L682.74 776.18L689.66 784.66L696.58 795.80L703.50 803.32L710.42 803.60L717.34 799.95L724.26 794.75L731.18 785.01L738.10 772.69L745.02 764.85L751.94 768.91L758.86 783.15L765.78 795.34L772.70 796.97L779.62 791.17L786.54 785.96L793.46 783.82L800.38 780.83L807.30 773.07L814.22 765.94L821.14 758.53L828.06 756.14L834.98 756.26L841.90 762.29L848.82 768.73L855.74 772.24L862.66 773.77L869.58 774.70L876.50 774.22L883.42 767.87L890.34 760.53L897.26 758.74L904.18 767.29L911.10 781.62L918.02 796.78L924.94 806.68L931.86 811.20L938.78 807.55L945.70 799.12L952.62 785.58L959.54 774.79L966.46 766.27L973.38 762.41L980.30 758.88L987.22 756.80L994.14 756.18L1001.06 759.28L1007.98 766.77L1014.90 776.14L1021.82 786.33L1028.74 795.25L1035.66 802.66L1042.58 805.76L1049.50 806.80L1056.42 806.75L1063.34 807.73L1070.26 802.98L1077.18 793.49L1084.10 781.42L1091.02 777.43L1097.94 781.45L1104.86 789.30L1111.78 791.49L1118.70 786.29L1125.62 780.81L1132.54 779.87L1139.46 785.62L1146.38 789.51L1153.30 793.18L1160.22 794.69L1167.14 795.11L1174.06 790.70L1180.98 781.38L1187.90 777.05L1194.82 776.63L1201.74 780.36L1208.66 774.43L1215.58 766.91L1222.50 760.18L1229.42 759.91L1236.34 759.78L1243.26 760.59L1250.18 767.82L1257.10 780.53L1264.02 793.96L1270.94 800.12L1277.86 802.66L1284.78 800.66L1291.70 796.67L1298.62 789.91L1305.54 784.09L1312.46 779.15L1319.38 775.43L1326.30 774.88L1333.22 777.18L1340.14 777.08L1347.06 775.94L1353.98 776.89L1360.90 781.91L1367.82 782.25L1374.74 774.36L1381.66 764.56L1388.58 760.04L1395.50 766.94L1402.42 778.74L1409.34 791.73L1416.26 796.49L1423.18 791.99L1430.10 782.71L1437.02 777.01L1443.94 781.41L1450.86 790.27L1457.78 798.07L1464.70 798.69L1471.62 793.47L1478.54 786.89L1485.46 783.36L1492.38 782.45L1499.30 779.11L1506.22 770.64L1513.14 764.21L1520.06 761.48L1526.98 762.45L1533.90 761.88L1540.82 762.43L1547.74 768.71L1554.66 780.63L1561.58 792.28L1568.50 799.11L1575.42 800.73L1582.34 802.41L1589.26 803.62L1596.18 804.37L1603.10 799.87L1610.02 790.12L1616.94 777.34L1623.86 768.11L1630.78 764.24L1637.70 763.64L1644.62 763.97L1651.54 767.52L1658.46 774.69L1665.38 783.31L1672.30 786.58L1679.22 783.88L1686.14 777.09L1693.06 777.92L1699.98 781.69L1706.90 787.33L1713.82 782.01L1720.74 775.05L1727.66 766.22L1734.58 763.19L1741.50 758.87L1748.42 758.59L1755.34 756.07L1762.26 757.72L1769.18 756.85L1776.10 759.43L1783.02 759.51L1789.94 759.33L1796.86 757.60L1803.78 758.58L1810.70 765.01L1817.62 775.02" stroke="#ff33ee" stroke-width="1.15" opacity="0.7"/>
</g>
<g fill="none">
<path d="M10.5 611.90H1905.5" stroke="#4a4a4a" stroke-width="1.3"/>
<path d="M10.5 739.60H1905.5" stroke="#4a4a4a" stroke-width="1.3"/>
<path d="M10.5 818.90H1905.5" stroke="#4a4a4a" stroke-width="1.3"/>
<path d="M1835.5 10V846" stroke="#2b2b2b" stroke-width="1.4"/>
</g>
<text x="18.20" y="29.60" textLength="156.20" lengthAdjust="spacingAndGlyphs" style="color:#333333">PREC.M.XPT=, 1W, FXS, Bid</text>
<text x="183.30" y="29.60" textLength="7.80" lengthAdjust="spacingAndGlyphs" style="color:#333333">O</text>
<text x="193.20" y="29.60" textLength="57.20" lengthAdjust="spacingAndGlyphs" style="color:#4a4aff">1313.7500</text>
<text x="258.40" y="29.60" textLength="7.20" lengthAdjust="spacingAndGlyphs" style="color:#333333">H</text>
<text x="267.90" y="29.60" textLength="57.00" lengthAdjust="spacingAndGlyphs" style="color:#4a4aff">1353.4500</text>
<text x="333.70" y="29.60" textLength="5.60" lengthAdjust="spacingAndGlyphs" style="color:#333333">L</text>
<text x="341.40" y="29.60" textLength="57.00" lengthAdjust="spacingAndGlyphs" style="color:#4a4aff">1297.2000</text>
<text x="406.50" y="29.60" textLength="6.50" lengthAdjust="spacingAndGlyphs" style="color:#333333">C</text>
<text x="414.60" y="29.60" textLength="57.20" lengthAdjust="spacingAndGlyphs" style="color:#4a4aff">1321.9800</text>
<text x="481.00" y="29.60" textLength="36.70" lengthAdjust="spacingAndGlyphs" style="color:#4a4aff">7.0481</text>
<text x="523.70" y="29.60" textLength="47.40" lengthAdjust="spacingAndGlyphs" style="color:#4a4aff">(+0.54%)</text>
<text x="589.50" y="29.60" textLength="89.60" lengthAdjust="spacingAndGlyphs" style="color:#333333">MA (4, close, 0)</text>
<text x="688.40" y="29.60" textLength="57.10" lengthAdjust="spacingAndGlyphs" style="color:#ff33ff">1364.9852</text>
<text x="763.60" y="29.60" textLength="89.50" lengthAdjust="spacingAndGlyphs" style="color:#333333">MA (9, close, 0)</text>
<text x="862.80" y="29.60" textLength="57.80" lengthAdjust="spacingAndGlyphs" style="color:#22cc22">1342.4437</text>
<text x="938.30" y="29.60" textLength="96.50" lengthAdjust="spacingAndGlyphs" style="color:#333333">MA (25, close, 0)</text>
<text x="1043.50" y="29.60" textLength="58.10" lengthAdjust="spacingAndGlyphs" style="color:#a01040">1118.9624</text>
<text x="1119.30" y="29.60" textLength="96.50" lengthAdjust="spacingAndGlyphs" style="color:#333333">MA (50, close, 0)</text>
<text x="1224.50" y="29.60" textLength="58.80" lengthAdjust="spacingAndGlyphs" style="color:#11cccc">1040.7637</text>
<text x="1300.60" y="29.60" textLength="103.20" lengthAdjust="spacingAndGlyphs" style="color:#333333">MA (100, close, 0)</text>
<text x="1412.10" y="29.60" textLength="51.50" lengthAdjust="spacingAndGlyphs" style="color:#118811">989.4393</text>
<text x="1481.50" y="29.60" textLength="103.20" lengthAdjust="spacingAndGlyphs" style="color:#333333">MA (150, close, 0)</text>
<text x="1593.00" y="29.60" textLength="51.50" lengthAdjust="spacingAndGlyphs" style="color:#ff4040">986.4521</text>
<text x="1662.70" y="29.60" textLength="103.60" lengthAdjust="spacingAndGlyphs" style="color:#333333">MA (200, close, 0)</text>
<text x="1774.60" y="29.60" textLength="51.40" lengthAdjust="spacingAndGlyphs" style="color:#a8603f">981.3602</text>
<text x="18.20" y="48.20" textLength="102.70" lengthAdjust="spacingAndGlyphs" style="color:#333333">MA (250, close, 0)</text>
<text x="130.40" y="48.20" textLength="56.80" lengthAdjust="spacingAndGlyphs" style="color:#222222">1001.9867</text>
<text x="18.20" y="632.40" textLength="148.90" lengthAdjust="spacingAndGlyphs" style="color:#333333">RSI (9, Wilder, Simple, 14)</text>
<text x="176.60" y="632.40" textLength="44.40" lengthAdjust="spacingAndGlyphs" style="color:#4a4aff">64.5893</text>
<text x="230.10" y="632.40" textLength="44.40" lengthAdjust="spacingAndGlyphs" style="color:#279a6c">74.6264</text>
<text x="292.60" y="632.40" textLength="149.80" lengthAdjust="spacingAndGlyphs" style="color:#333333">RSI (14, Wilder, Simple, 9)</text>
<text x="450.90" y="632.40" textLength="44.40" lengthAdjust="spacingAndGlyphs" style="color:#ff33ff">66.6342</text>
<text x="18.20" y="759.90" textLength="185.70" lengthAdjust="spacingAndGlyphs" style="color:#333333">Stochastic Slow (5, 3, 3, Simple)</text>
<text x="212.70" y="759.90" textLength="39.30" lengthAdjust="spacingAndGlyphs" style="color:#4a4aff">40.403</text>
<text x="258.50" y="759.90" textLength="38.60" lengthAdjust="spacingAndGlyphs" style="color:#ff33ff">57.769</text>
<text x="1843.30" y="609.23" textLength="47.00" lengthAdjust="spacingAndGlyphs">750.0000</text>
<text x="1843.30" y="574.80" textLength="47.00" lengthAdjust="spacingAndGlyphs">800.0000</text>
<text x="1843.30" y="540.37" textLength="47.00" lengthAdjust="spacingAndGlyphs">850.0000</text>
<text x="1843.30" y="505.94" textLength="47.00" lengthAdjust="spacingAndGlyphs">900.0000</text>
<text x="1843.30" y="471.51" textLength="47.00" lengthAdjust="spacingAndGlyphs">950.0000</text>
<text x="1843.30" y="437.09" textLength="53.50" lengthAdjust="spacingAndGlyphs">1000.0000</text>
<text x="1843.30" y="402.66" textLength="53.50" lengthAdjust="spacingAndGlyphs">1050.0000</text>
<text x="1843.30" y="368.23" textLength="53.50" lengthAdjust="spacingAndGlyphs">1100.0000</text>
<text x="1843.30" y="333.80" textLength="53.50" lengthAdjust="spacingAndGlyphs">1150.0000</text>
<text x="1843.30" y="299.37" textLength="53.50" lengthAdjust="spacingAndGlyphs">1200.0000</text>
<text x="1843.30" y="264.94" textLength="53.50" lengthAdjust="spacingAndGlyphs">1250.0000</text>
<text x="1843.30" y="230.51" textLength="53.50" lengthAdjust="spacingAndGlyphs">1300.0000</text>
<text x="1843.30" y="196.09" textLength="53.50" lengthAdjust="spacingAndGlyphs">1350.0000</text>
<text x="1843.30" y="161.66" textLength="53.50" lengthAdjust="spacingAndGlyphs">1400.0000</text>
<text x="1843.30" y="127.23" textLength="53.50" lengthAdjust="spacingAndGlyphs">1450.0000</text>
<text x="1843.30" y="92.80" textLength="53.50" lengthAdjust="spacingAndGlyphs">1500.0000</text>
<text x="1843.30" y="623.90" textLength="47.00" lengthAdjust="spacingAndGlyphs">100.0000</text>
<text x="1843.30" y="684.40" textLength="40.50" lengthAdjust="spacingAndGlyphs">50.0000</text>
<text x="1843.30" y="714.65" textLength="40.50" lengthAdjust="spacingAndGlyphs">25.0000</text>
<rect x="1839" y="14" width="62.5" height="49.2" rx="4" fill="#fff" stroke="#efefef" stroke-width="1.3"/>
<text x="1847.60" y="30.80" textLength="21.00" lengthAdjust="spacingAndGlyphs">USD</text>
<text x="1847.60" y="55.10" textLength="19.80" lengthAdjust="spacingAndGlyphs">oz t</text>
<rect x="1836" y="169.05" width="66.20" height="16.8" rx="1.5" fill="#ff00ff"/>
<text x="1843.30" y="181.80" textLength="53.50" lengthAdjust="spacingAndGlyphs" style="color:#fff;stroke-width:.4px">1364.9852</text>
<rect x="1836" y="186.05" width="66.20" height="16.8" rx="1.5" fill="#00cc00"/>
<text x="1843.30" y="198.80" textLength="53.50" lengthAdjust="spacingAndGlyphs" style="color:#fff;stroke-width:.4px">1342.4437</text>
<rect x="1836" y="202.90" width="66.20" height="16.8" rx="1.5" fill="#000000"/>
<text x="1843.30" y="215.65" textLength="53.50" lengthAdjust="spacingAndGlyphs" style="color:#fff;stroke-width:.4px">1321.9800</text>
<rect x="1836" y="342.40" width="66.20" height="16.8" rx="1.5" fill="#990033"/>
<text x="1843.30" y="355.15" textLength="53.50" lengthAdjust="spacingAndGlyphs" style="color:#fff;stroke-width:.4px">1118.9624</text>
<rect x="1836" y="396.80" width="66.20" height="16.8" rx="1.5" fill="#00cccc"/>
<text x="1843.30" y="409.55" textLength="53.50" lengthAdjust="spacingAndGlyphs" style="color:#222;stroke-width:.4px">1040.7637</text>
<rect x="1836" y="423.30" width="66.20" height="16.8" rx="1.5" fill="#000000"/>
<text x="1843.30" y="436.05" textLength="53.50" lengthAdjust="spacingAndGlyphs" style="color:#fff;stroke-width:.4px">1001.9867</text>
<rect x="1836" y="440.40" width="59.90" height="16.8" rx="1.5" fill="#008000"/>
<text x="1843.30" y="453.15" textLength="47.00" lengthAdjust="spacingAndGlyphs" style="color:#fff;stroke-width:.4px">989.4393</text>
<rect x="1836" y="457.40" width="59.90" height="16.8" rx="1.5" fill="#ff3333"/>
<text x="1843.30" y="470.15" textLength="47.00" lengthAdjust="spacingAndGlyphs" style="color:#fff;stroke-width:.4px">986.4521</text>
<rect x="1836" y="474.40" width="59.90" height="16.8" rx="1.5" fill="#a5573a"/>
<text x="1843.30" y="487.15" textLength="47.00" lengthAdjust="spacingAndGlyphs" style="color:#fff;stroke-width:.4px">981.3602</text>
<rect x="1836" y="620.80" width="53.90" height="16.8" rx="1.5" fill="#007a52"/>
<text x="1843.30" y="633.55" textLength="40.50" lengthAdjust="spacingAndGlyphs" style="color:#fff;stroke-width:.4px">74.6264</text>
<rect x="1836" y="637.50" width="53.90" height="16.8" rx="1.5" fill="#ff00ff"/>
<text x="1843.30" y="650.25" textLength="40.50" lengthAdjust="spacingAndGlyphs" style="color:#fff;stroke-width:.4px">66.6342</text>
<rect x="1836" y="654.30" width="53.90" height="16.8" rx="1.5" fill="#3333ff"/>
<text x="1843.30" y="667.05" textLength="40.50" lengthAdjust="spacingAndGlyphs" style="color:#fff;stroke-width:.4px">64.5893</text>
<rect x="1836" y="761.10" width="47.40" height="16.8" rx="1.5" fill="#ff00ff"/>
<text x="1843.30" y="773.85" textLength="34.00" lengthAdjust="spacingAndGlyphs" style="color:#fff;stroke-width:.4px">57.769</text>
<rect x="1836" y="778.10" width="47.40" height="16.8" rx="1.5" fill="#3333ff"/>
<text x="1843.30" y="790.85" textLength="34.00" lengthAdjust="spacingAndGlyphs" style="color:#fff;stroke-width:.4px">40.403</text>
<text x="72.88" y="836.70" text-anchor="middle">Oct</text>
<text x="162.84" y="836.70" style="font-weight:bold" text-anchor="middle">2021</text>
<text x="252.80" y="836.70" text-anchor="middle">Apr</text>
<text x="342.76" y="836.70" text-anchor="middle">Jul</text>
<text x="432.72" y="836.70" text-anchor="middle">Oct</text>
<text x="522.68" y="836.70" style="font-weight:bold" text-anchor="middle">2022</text>
<text x="612.64" y="836.70" text-anchor="middle">Apr</text>
<text x="702.60" y="836.70" text-anchor="middle">Jul</text>
<text x="792.56" y="836.70" text-anchor="middle">Oct</text>
<text x="882.52" y="836.70" style="font-weight:bold" text-anchor="middle">2023</text>
<text x="972.48" y="836.70" text-anchor="middle">Apr</text>
<text x="1062.44" y="836.70" text-anchor="middle">Jul</text>
<text x="1152.40" y="836.70" text-anchor="middle">Oct</text>
<text x="1242.36" y="836.70" style="font-weight:bold" text-anchor="middle">2024</text>
<text x="1332.32" y="836.70" text-anchor="middle">Apr</text>
<text x="1422.28" y="836.70" text-anchor="middle">Jul</text>
<text x="1519.16" y="836.70" text-anchor="middle">Oct</text>
<text x="1609.12" y="836.70" style="font-weight:bold" text-anchor="middle">2025</text>
<text x="1699.08" y="836.70" text-anchor="middle">Apr</text>
<text x="1789.04" y="836.70" text-anchor="middle">Jul</text>
<g><path d="M1852.8 857.8h1.1v1.1h-1.1zM1835.8 858.8h1.1v1.1h-1.1zM1836.8 858.8h1.1v1.1h-1.1zM1839.8 858.8h1.1v1.1h-1.1zM1843.8 858.8h1.1v1.1h-1.1zM1853.8 858.8h1.1v1.1h-1.1zM1833.8 859.8h1.1v1.1h-1.1zM1835.8 859.8h1.1v1.1h-1.1zM1836.8 859.8h1.1v1.1h-1.1zM1838.8 859.8h1.1v1.1h-1.1zM1839.8 859.8h1.1v1.1h-1.1zM1847.8 859.8h1.1v1.1h-1.1zM1851.8 859.8h1.1v1.1h-1.1zM1852.8 859.8h1.1v1.1h-1.1zM1834.8 860.8h1.1v1.1h-1.1zM1835.8 860.8h1.1v1.1h-1.1zM1836.8 860.8h1.1v1.1h-1.1zM1837.8 860.8h1.1v1.1h-1.1zM1838.8 860.8h1.1v1.1h-1.1zM1843.8 860.8h1.1v1.1h-1.1zM1846.8 860.8h1.1v1.1h-1.1zM1850.8 860.8h1.1v1.1h-1.1zM1851.8 860.8h1.1v1.1h-1.1zM1852.8 860.8h1.1v1.1h-1.1zM1854.8 860.8h1.1v1.1h-1.1zM1856.8 860.8h1.1v1.1h-1.1zM1832.8 861.8h1.1v1.1h-1.1zM1833.8 861.8h1.1v1.1h-1.1zM1835.8 861.8h1.1v1.1h-1.1zM1836.8 861.8h1.1v1.1h-1.1zM1837.8 861.8h1.1v1.1h-1.1zM1839.8 861.8h1.1v1.1h-1.1zM1841.8 861.8h1.1v1.1h-1.1zM1842.8 861.8h1.1v1.1h-1.1zM1846.8 861.8h1.1v1.1h-1.1zM1847.8 861.8h1.1v1.1h-1.1zM1848.8 861.8h1.1v1.1h-1.1zM1852.8 861.8h1.1v1.1h-1.1zM1853.8 861.8h1.1v1.1h-1.1zM1854.8 861.8h1.1v1.1h-1.1zM1855.8 861.8h1.1v1.1h-1.1zM1856.8 861.8h1.1v1.1h-1.1zM1832.8 862.8h1.1v1.1h-1.1zM1833.8 862.8h1.1v1.1h-1.1zM1835.8 862.8h1.1v1.1h-1.1zM1836.8 862.8h1.1v1.1h-1.1zM1837.8 862.8h1.1v1.1h-1.1zM1838.8 862.8h1.1v1.1h-1.1zM1839.8 862.8h1.1v1.1h-1.1zM1840.8 862.8h1.1v1.1h-1.1zM1843.8 862.8h1.1v1.1h-1.1zM1844.8 862.8h1.1v1.1h-1.1zM1845.8 862.8h1.1v1.1h-1.1zM1846.8 862.8h1.1v1.1h-1.1zM1847.8 862.8h1.1v1.1h-1.1zM1848.8 862.8h1.1v1.1h-1.1zM1849.8 862.8h1.1v1.1h-1.1zM1850.8 862.8h1.1v1.1h-1.1zM1852.8 862.8h1.1v1.1h-1.1zM1853.8 862.8h1.1v1.1h-1.1zM1854.8 862.8h1.1v1.1h-1.1zM1856.8 862.8h1.1v1.1h-1.1zM1833.8 863.8h1.1v1.1h-1.1zM1835.8 863.8h1.1v1.1h-1.1zM1836.8 863.8h1.1v1.1h-1.1zM1839.8 863.8h1.1v1.1h-1.1zM1840.8 863.8h1.1v1.1h-1.1zM1842.8 863.8h1.1v1.1h-1.1zM1843.8 863.8h1.1v1.1h-1.1zM1844.8 863.8h1.1v1.1h-1.1zM1845.8 863.8h1.1v1.1h-1.1zM1846.8 863.8h1.1v1.1h-1.1zM1847.8 863.8h1.1v1.1h-1.1zM1848.8 863.8h1.1v1.1h-1.1zM1849.8 863.8h1.1v1.1h-1.1zM1850.8 863.8h1.1v1.1h-1.1zM1851.8 863.8h1.1v1.1h-1.1zM1852.8 863.8h1.1v1.1h-1.1zM1853.8 863.8h1.1v1.1h-1.1zM1854.8 863.8h1.1v1.1h-1.1zM1855.8 863.8h1.1v1.1h-1.1zM1856.8 863.8h1.1v1.1h-1.1zM1833.8 864.8h1.1v1.1h-1.1zM1835.8 864.8h1.1v1.1h-1.1zM1836.8 864.8h1.1v1.1h-1.1zM1837.8 864.8h1.1v1.1h-1.1zM1838.8 864.8h1.1v1.1h-1.1zM1839.8 864.8h1.1v1.1h-1.1zM1840.8 864.8h1.1v1.1h-1.1zM1841.8 864.8h1.1v1.1h-1.1zM1842.8 864.8h1.1v1.1h-1.1zM1843.8 864.8h1.1v1.1h-1.1zM1844.8 864.8h1.1v1.1h-1.1zM1845.8 864.8h1.1v1.1h-1.1zM1846.8 864.8h1.1v1.1h-1.1zM1847.8 864.8h1.1v1.1h-1.1zM1848.8 864.8h1.1v1.1h-1.1zM1849.8 864.8h1.1v1.1h-1.1zM1850.8 864.8h1.1v1.1h-1.1zM1851.8 864.8h1.1v1.1h-1.1zM1852.8 864.8h1.1v1.1h-1.1zM1853.8 864.8h1.1v1.1h-1.1zM1854.8 864.8h1.1v1.1h-1.1zM1856.8 864.8h1.1v1.1h-1.1zM1834.8 865.8h1.1v1.1h-1.1zM1835.8 865.8h1.1v1.1h-1.1zM1836.8 865.8h1.1v1.1h-1.1zM1837.8 865.8h1.1v1.1h-1.1zM1838.8 865.8h1.1v1.1h-1.1zM1841.8 865.8h1.1v1.1h-1.1zM1842.8 865.8h1.1v1.1h-1.1zM1843.8 865.8h1.1v1.1h-1.1zM1844.8 865.8h1.1v1.1h-1.1zM1845.8 865.8h1.1v1.1h-1.1zM1846.8 865.8h1.1v1.1h-1.1zM1847.8 865.8h1.1v1.1h-1.1zM1848.8 865.8h1.1v1.1h-1.1zM1849.8 865.8h1.1v1.1h-1.1zM1850.8 865.8h1.1v1.1h-1.1zM1853.8 865.8h1.1v1.1h-1.1zM1855.8 865.8h1.1v1.1h-1.1zM1833.8 866.8h1.1v1.1h-1.1zM1836.8 866.8h1.1v1.1h-1.1zM1838.8 866.8h1.1v1.1h-1.1zM1839.8 866.8h1.1v1.1h-1.1zM1840.8 866.8h1.1v1.1h-1.1zM1841.8 866.8h1.1v1.1h-1.1zM1842.8 866.8h1.1v1.1h-1.1zM1843.8 866.8h1.1v1.1h-1.1zM1844.8 866.8h1.1v1.1h-1.1zM1845.8 866.8h1.1v1.1h-1.1zM1846.8 866.8h1.1v1.1h-1.1zM1847.8 866.8h1.1v1.1h-1.1zM1848.8 866.8h1.1v1.1h-1.1zM1849.8 866.8h1.1v1.1h-1.1zM1850.8 866.8h1.1v1.1h-1.1zM1853.8 866.8h1.1v1.1h-1.1zM1836.8 867.8h1.1v1.1h-1.1zM1838.8 867.8h1.1v1.1h-1.1zM1840.8 867.8h1.1v1.1h-1.1zM1841.8 867.8h1.1v1.1h-1.1zM1842.8 867.8h1.1v1.1h-1.1zM1843.8 867.8h1.1v1.1h-1.1zM1844.8 867.8h1.1v1.1h-1.1zM1845.8 867.8h1.1v1.1h-1.1zM1846.8 867.8h1.1v1.1h-1.1zM1847.8 867.8h1.1v1.1h-1.1zM1848.8 867.8h1.1v1.1h-1.1zM1849.8 867.8h1.1v1.1h-1.1zM1850.8 867.8h1.1v1.1h-1.1zM1851.8 867.8h1.1v1.1h-1.1zM1836.8 868.8h1.1v1.1h-1.1zM1840.8 868.8h1.1v1.1h-1.1zM1842.8 868.8h1.1v1.1h-1.1zM1843.8 868.8h1.1v1.1h-1.1zM1844.8 868.8h1.1v1.1h-1.1zM1845.8 868.8h1.1v1.1h-1.1zM1846.8 868.8h1.1v1.1h-1.1zM1849.8 868.8h1.1v1.1h-1.1zM1851.8 868.8h1.1v1.1h-1.1zM1840.8 869.8h1.1v1.1h-1.1zM1841.8 869.8h1.1v1.1h-1.1zM1842.8 869.8h1.1v1.1h-1.1zM1844.8 869.8h1.1v1.1h-1.1zM1845.8 869.8h1.1v1.1h-1.1zM1846.8 869.8h1.1v1.1h-1.1zM1847.8 869.8h1.1v1.1h-1.1zM1843.8 870.8h1.1v1.1h-1.1zM1845.8 870.8h1.1v1.1h-1.1zM1846.8 870.8h1.1v1.1h-1.1zM1847.8 870.8h1.1v1.1h-1.1zM1848.8 870.8h1.1v1.1h-1.1zM1839.8 871.8h1.1v1.1h-1.1zM1842.8 871.8h1.1v1.1h-1.1zM1845.8 871.8h1.1v1.1h-1.1zM1846.8 871.8h1.1v1.1h-1.1zM1847.8 871.8h1.1v1.1h-1.1zM1849.8 871.8h1.1v1.1h-1.1zM1850.8 871.8h1.1v1.1h-1.1zM1839.8 872.8h1.1v1.1h-1.1zM1841.8 872.8h1.1v1.1h-1.1zM1844.8 872.8h1.1v1.1h-1.1zM1845.8 872.8h1.1v1.1h-1.1zM1846.8 872.8h1.1v1.1h-1.1zM1847.8 872.8h1.1v1.1h-1.1zM1848.8 872.8h1.1v1.1h-1.1zM1849.8 872.8h1.1v1.1h-1.1zM1841.8 873.8h1.1v1.1h-1.1zM1843.8 873.8h1.1v1.1h-1.1zM1844.8 873.8h1.1v1.1h-1.1zM1845.8 873.8h1.1v1.1h-1.1zM1846.8 873.8h1.1v1.1h-1.1zM1847.8 873.8h1.1v1.1h-1.1z" fill="#0a1cff"/><path d="M1841.8 856.8h1.1v1.1h-1.1zM1842.8 856.8h1.1v1.1h-1.1zM1844.8 856.8h1.1v1.1h-1.1zM1849.8 856.8h1.1v1.1h-1.1zM1850.8 856.8h1.1v1.1h-1.1zM1852.8 856.8h1.1v1.1h-1.1zM1836.8 857.8h1.1v1.1h-1.1zM1837.8 857.8h1.1v1.1h-1.1zM1844.8 857.8h1.1v1.1h-1.1zM1849.8 857.8h1.1v1.1h-1.1zM1851.8 857.8h1.1v1.1h-1.1zM1854.8 857.8h1.1v1.1h-1.1zM1855.8 857.8h1.1v1.1h-1.1zM1840.8 858.8h1.1v1.1h-1.1zM1844.8 858.8h1.1v1.1h-1.1zM1847.8 858.8h1.1v1.1h-1.1zM1848.8 858.8h1.1v1.1h-1.1zM1849.8 858.8h1.1v1.1h-1.1zM1855.8 858.8h1.1v1.1h-1.1zM1841.8 859.8h1.1v1.1h-1.1zM1843.8 859.8h1.1v1.1h-1.1zM1848.8 859.8h1.1v1.1h-1.1zM1849.8 859.8h1.1v1.1h-1.1zM1850.8 859.8h1.1v1.1h-1.1zM1859.8 859.8h1.1v1.1h-1.1zM1858.8 860.8h1.1v1.1h-1.1zM1859.8 860.8h1.1v1.1h-1.1zM1831.8 862.8h1.1v1.1h-1.1zM1857.8 864.8h1.1v1.1h-1.1zM1856.8 865.8h1.1v1.1h-1.1zM1857.8 865.8h1.1v1.1h-1.1zM1832.8 866.8h1.1v1.1h-1.1zM1837.8 867.8h1.1v1.1h-1.1zM1859.8 867.8h1.1v1.1h-1.1zM1832.8 868.8h1.1v1.1h-1.1zM1833.8 868.8h1.1v1.1h-1.1zM1834.8 868.8h1.1v1.1h-1.1zM1855.8 868.8h1.1v1.1h-1.1zM1833.8 869.8h1.1v1.1h-1.1zM1835.8 869.8h1.1v1.1h-1.1zM1837.8 869.8h1.1v1.1h-1.1zM1853.8 869.8h1.1v1.1h-1.1zM1857.8 869.8h1.1v1.1h-1.1zM1834.8 870.8h1.1v1.1h-1.1zM1840.8 870.8h1.1v1.1h-1.1zM1850.8 870.8h1.1v1.1h-1.1zM1855.8 870.8h1.1v1.1h-1.1zM1856.8 870.8h1.1v1.1h-1.1zM1833.8 871.8h1.1v1.1h-1.1zM1835.8 871.8h1.1v1.1h-1.1zM1838.8 871.8h1.1v1.1h-1.1zM1840.8 871.8h1.1v1.1h-1.1zM1853.8 871.8h1.1v1.1h-1.1zM1833.8 872.8h1.1v1.1h-1.1zM1840.8 873.8h1.1v1.1h-1.1zM1849.8 873.8h1.1v1.1h-1.1zM1853.8 873.8h1.1v1.1h-1.1zM1854.8 873.8h1.1v1.1h-1.1zM1845.8 874.8h1.1v1.1h-1.1zM1855.8 874.8h1.1v1.1h-1.1z" fill="#0a1cff" opacity=".6"/><path d="M1845.2 866.4l1.6-1.8 1.6 1.8-1.6 1.8z" fill="#b9c0ff"/><text transform="translate(1866.5 871) scale(.85 1)" x="0 10.8 23.1 33.5" y="0" style="font-size:15.3px;font-weight:bold;color:#0a1cff;stroke-width:0">LSEG</text></g>
</svg></body></html>
